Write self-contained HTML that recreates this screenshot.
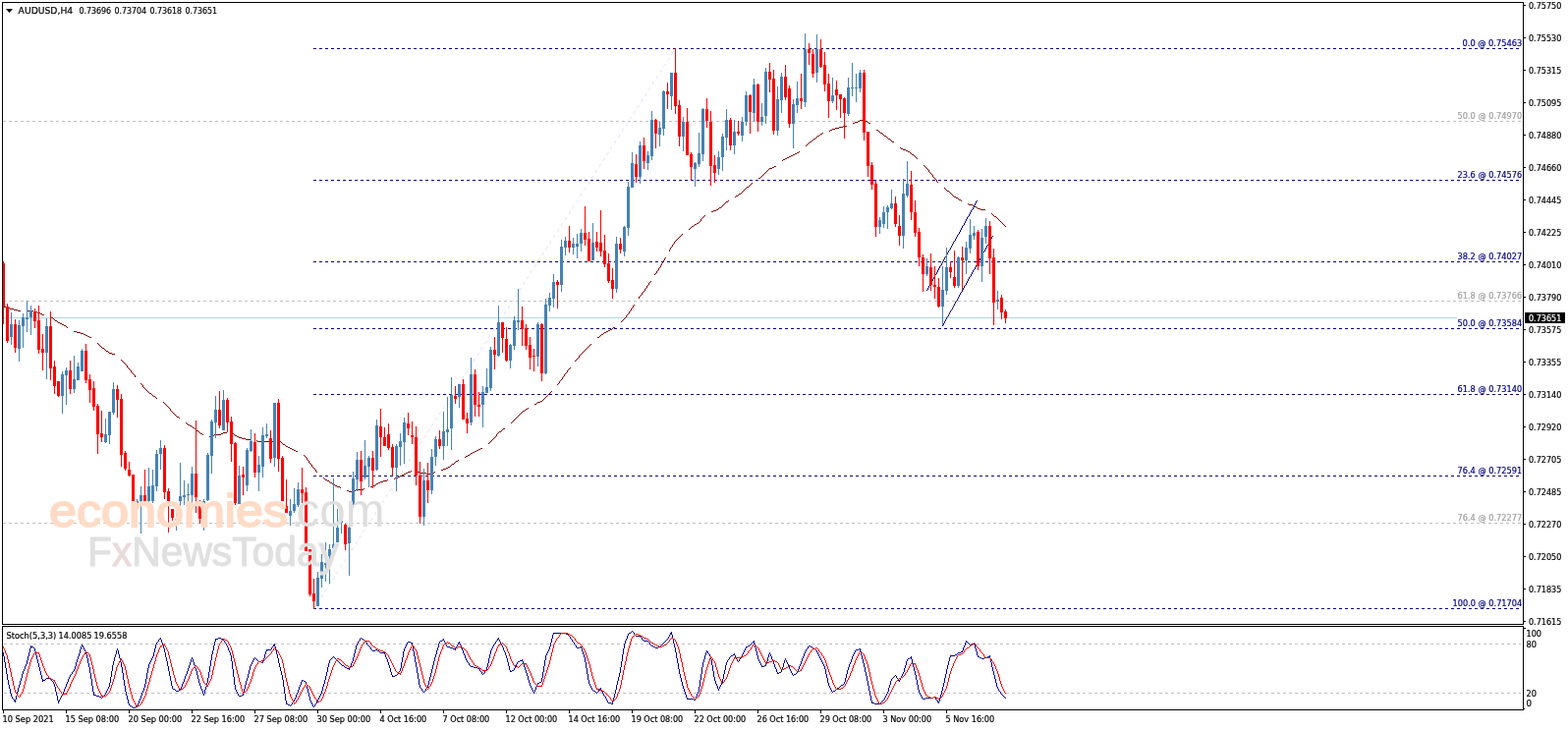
<!DOCTYPE html><html><head><meta charset="utf-8"><title>AUDUSD,H4</title><style>
html,body{margin:0;padding:0;background:#fff;}body{width:1596px;height:743px;overflow:hidden;}
svg{display:block;}text{font-family:"DejaVu Sans Condensed","Liberation Sans",sans-serif;font-size:9.5px;}
.c{shape-rendering:crispEdges}
</style></head><body>
<svg width="1596" height="743" viewBox="0 0 1596 743">
<rect x="0" y="0" width="1596" height="743" fill="#fff"/>
<g class="c">
<line x1="3" y1="123.5" x2="1548" y2="123.5" stroke="#C0C0C0" stroke-width="1" stroke-dasharray="3 3"/>
<line x1="3" y1="306.5" x2="1548" y2="306.5" stroke="#C0C0C0" stroke-width="1" stroke-dasharray="3 3"/>
<line x1="3" y1="532.5" x2="1548" y2="532.5" stroke="#C0C0C0" stroke-width="1" stroke-dasharray="3 3"/>
<line x1="319" y1="49.5" x2="1546" y2="49.5" stroke="#000080" stroke-width="1" stroke-dasharray="3 3"/>
<line x1="319" y1="183.5" x2="1546" y2="183.5" stroke="#000080" stroke-width="1" stroke-dasharray="3 3"/>
<line x1="319" y1="266.5" x2="1546" y2="266.5" stroke="#000080" stroke-width="1" stroke-dasharray="3 3"/>
<line x1="319" y1="334.5" x2="1546" y2="334.5" stroke="#000080" stroke-width="1" stroke-dasharray="3 3"/>
<line x1="319" y1="401.5" x2="1546" y2="401.5" stroke="#000080" stroke-width="1" stroke-dasharray="3 3"/>
<line x1="319" y1="484.5" x2="1546" y2="484.5" stroke="#000080" stroke-width="1" stroke-dasharray="3 3"/>
<line x1="319" y1="619.5" x2="1546" y2="619.5" stroke="#000080" stroke-width="1" stroke-dasharray="3 3"/>
<line x1="3" y1="323.5" x2="1483" y2="323.5" stroke="#ADD8E6" stroke-width="1"/>
</g>
<path d="M319 619h1v1h-1zM320 617h1v2h-1zM323 613h1v1h-1zM324 611h1v2h-1zM327 606h1v2h-1zM328 605h1v1h-1zM331 600h1v2h-1zM332 599h1v1h-1zM334 595h1v1h-1zM335 594h1v1h-1zM336 593h1v1h-1zM338 589h1v1h-1zM339 588h1v1h-1zM340 587h1v1h-1zM342 583h1v1h-1zM343 582h1v1h-1zM344 581h1v1h-1zM346 577h1v1h-1zM347 575h1v2h-1zM350 571h1v1h-1zM351 569h1v2h-1zM354 565h1v1h-1zM355 563h1v2h-1zM358 558h1v2h-1zM359 557h1v1h-1zM362 552h1v2h-1zM363 551h1v1h-1zM365 547h1v1h-1zM366 546h1v1h-1zM367 545h1v1h-1zM369 541h1v1h-1zM370 540h1v1h-1zM371 539h1v1h-1zM373 535h1v1h-1zM374 534h1v1h-1zM375 533h1v1h-1zM377 529h1v1h-1zM378 527h1v2h-1zM381 523h1v1h-1zM382 521h1v2h-1zM385 516h1v2h-1zM386 515h1v1h-1zM389 510h1v2h-1zM390 509h1v1h-1zM393 504h1v2h-1zM394 503h1v1h-1zM396 499h1v1h-1zM397 498h1v1h-1zM398 497h1v1h-1zM400 493h1v1h-1zM401 492h1v1h-1zM402 491h1v1h-1zM404 487h1v1h-1zM405 486h1v1h-1zM406 485h1v1h-1zM408 481h1v1h-1zM409 479h1v2h-1zM412 475h1v1h-1zM413 473h1v2h-1zM416 468h1v2h-1zM417 467h1v1h-1zM420 462h1v2h-1zM421 461h1v1h-1zM424 456h1v2h-1zM425 455h1v1h-1zM427 451h1v1h-1zM428 450h1v1h-1zM429 449h1v1h-1zM431 445h1v1h-1zM432 444h1v1h-1zM433 443h1v1h-1zM435 439h1v1h-1zM436 438h1v1h-1zM437 437h1v1h-1zM439 433h1v1h-1zM440 431h1v2h-1zM443 427h1v1h-1zM444 425h1v2h-1zM447 420h1v2h-1zM448 419h1v1h-1zM451 414h1v2h-1zM452 413h1v1h-1zM455 408h1v2h-1zM456 407h1v1h-1zM458 403h1v1h-1zM459 402h1v1h-1zM460 401h1v1h-1zM462 397h1v1h-1zM463 396h1v1h-1zM464 395h1v1h-1zM466 391h1v1h-1zM467 389h1v2h-1zM470 385h1v1h-1zM471 383h1v2h-1zM474 379h1v1h-1zM475 377h1v2h-1zM478 372h1v2h-1zM479 371h1v1h-1zM482 366h1v2h-1zM483 365h1v1h-1zM486 360h1v2h-1zM487 359h1v1h-1zM489 355h1v1h-1zM490 354h1v1h-1zM491 353h1v1h-1zM493 349h1v1h-1zM494 348h1v1h-1zM495 347h1v1h-1zM497 343h1v1h-1zM498 341h1v2h-1zM501 337h1v1h-1zM502 335h1v2h-1zM505 331h1v1h-1zM506 329h1v2h-1zM509 324h1v2h-1zM510 323h1v1h-1zM513 318h1v2h-1zM514 317h1v1h-1zM517 312h1v2h-1zM518 311h1v1h-1zM520 307h1v1h-1zM521 306h1v1h-1zM522 305h1v1h-1zM524 301h1v1h-1zM525 300h1v1h-1zM526 299h1v1h-1zM528 295h1v1h-1zM529 293h1v2h-1zM532 289h1v1h-1zM533 287h1v2h-1zM536 283h1v1h-1zM537 281h1v2h-1zM540 276h1v2h-1zM541 275h1v1h-1zM544 270h1v2h-1zM545 269h1v1h-1zM548 264h1v2h-1zM549 263h1v1h-1zM551 259h1v1h-1zM552 258h1v1h-1zM553 257h1v1h-1zM555 253h1v1h-1zM556 252h1v1h-1zM557 251h1v1h-1zM559 247h1v1h-1zM560 245h1v2h-1zM563 241h1v1h-1zM564 239h1v2h-1zM567 235h1v1h-1zM568 233h1v2h-1zM571 228h1v2h-1zM572 227h1v1h-1zM575 222h1v2h-1zM576 221h1v1h-1zM579 216h1v2h-1zM580 215h1v1h-1zM582 211h1v1h-1zM583 210h1v1h-1zM584 209h1v1h-1zM586 205h1v1h-1zM587 204h1v1h-1zM588 203h1v1h-1zM590 199h1v1h-1zM591 197h1v2h-1zM594 193h1v1h-1zM595 191h1v2h-1zM598 187h1v1h-1zM599 185h1v2h-1zM602 180h1v2h-1zM603 179h1v1h-1zM606 174h1v2h-1zM607 173h1v1h-1zM610 168h1v2h-1zM611 167h1v1h-1zM613 163h1v1h-1zM614 162h1v1h-1zM615 161h1v1h-1zM617 157h1v1h-1zM618 156h1v1h-1zM619 155h1v1h-1zM621 151h1v1h-1zM622 149h1v2h-1zM625 145h1v1h-1zM626 143h1v2h-1zM629 139h1v1h-1zM630 137h1v2h-1zM633 132h1v2h-1zM634 131h1v1h-1zM637 126h1v2h-1zM638 125h1v1h-1zM641 120h1v2h-1zM642 119h1v1h-1zM644 115h1v1h-1zM645 114h1v1h-1zM646 113h1v1h-1zM648 109h1v1h-1zM649 108h1v1h-1zM650 107h1v1h-1zM652 103h1v1h-1zM653 101h1v2h-1zM656 97h1v1h-1zM657 95h1v2h-1zM660 91h1v1h-1zM661 89h1v2h-1zM664 84h1v2h-1zM665 83h1v1h-1zM668 78h1v2h-1zM669 77h1v1h-1zM672 72h1v2h-1zM673 71h1v1h-1zM675 67h1v1h-1zM676 66h1v1h-1zM677 65h1v1h-1zM679 61h1v1h-1zM680 60h1v1h-1zM681 59h1v1h-1zM683 55h1v1h-1zM684 53h1v2h-1zM687 49h1v1h-1z" fill="#E2E2FF"/>
<path d="M875 122h6v1h-6zM873 123h2v1h-2zM881 123h2v1h-2zM870 124h3v1h-3zM868 125h2v1h-2zM884 125h2v1h-2zM858 128h4v1h-4zM854 129h4v1h-4zM850 130h4v1h-4zM847 131h3v1h-3zM845 132h2v1h-2zM892 132h2v1h-2zM896 135h2v1h-2zM835 136h2v1h-2zM832 138h2v1h-2zM900 138h2v1h-2zM828 141h2v1h-2zM904 141h2v1h-2zM824 144h2v1h-2zM908 144h2v1h-2zM917 151h2v1h-2zM919 152h3v1h-3zM922 153h2v1h-2zM924 154h2v1h-2zM811 155h2v1h-2zM809 156h2v1h-2zM807 157h2v1h-2zM928 157h2v1h-2zM805 158h2v1h-2zM803 159h2v1h-2zM801 160h2v1h-2zM799 161h2v1h-2zM797 162h2v1h-2zM788 169h2v1h-2zM786 170h2v1h-2zM783 171h3v1h-3zM772 181h2v1h-2zM760 190h2v1h-2zM964 194h2v1h-2zM752 197h2v1h-2zM749 199h2v1h-2zM971 200h2v1h-2zM973 201h2v1h-2zM976 203h2v1h-2zM739 205h2v1h-2zM986 208h4v1h-4zM990 209h2v1h-2zM992 210h2v1h-2zM732 211h2v1h-2zM995 212h3v1h-3zM729 213h2v1h-2zM998 213h5v1h-5zM726 214h3v1h-3zM724 215h2v1h-2zM1012 220h2v1h-2zM709 227h2v1h-2zM707 228h2v1h-2zM704 230h2v1h-2zM3 312h3v1h-3zM6 313h4v1h-4zM10 314h4v1h-4zM14 315h4v1h-4zM18 316h3v1h-3zM27 316h7v1h-7zM34 317h4v1h-4zM38 318h3v1h-3zM41 319h2v1h-2zM43 320h2v1h-2zM52 323h2v1h-2zM56 326h2v1h-2zM59 328h2v1h-2zM61 329h2v1h-2zM63 330h2v1h-2zM65 331h2v1h-2zM624 333h2v1h-2zM621 335h2v1h-2zM619 336h2v1h-2zM75 337h3v1h-3zM617 337h2v1h-2zM78 338h4v1h-4zM615 338h2v1h-2zM82 339h3v1h-3zM85 340h2v1h-2zM612 340h2v1h-2zM87 341h2v1h-2zM89 342h2v1h-2zM91 343h2v1h-2zM608 343h2v1h-2zM104 354h2v1h-2zM108 357h2v1h-2zM111 359h3v1h-3zM114 360h3v1h-3zM152 400h2v1h-2zM156 403h2v1h-2zM550 408h2v1h-2zM547 409h3v1h-3zM544 411h2v1h-2zM535 416h2v1h-2zM532 418h2v1h-2zM180 424h2v1h-2zM191 432h2v1h-2zM193 433h2v1h-2zM196 435h2v1h-2zM512 436h2v1h-2zM200 438h2v1h-2zM508 439h2v1h-2zM227 440h4v1h-4zM204 441h2v1h-2zM225 441h2v1h-2zM218 442h7v1h-7zM214 443h4v1h-4zM239 443h2v1h-2zM241 444h2v1h-2zM243 445h3v1h-3zM246 446h4v1h-4zM250 447h5v1h-5zM262 449h16v1h-16zM288 452h2v1h-2zM291 454h2v1h-2zM293 455h2v1h-2zM295 456h2v1h-2zM489 456h2v1h-2zM297 457h2v1h-2zM487 457h2v1h-2zM299 458h2v1h-2zM485 458h2v1h-2zM301 459h2v1h-2zM483 459h2v1h-2zM481 460h2v1h-2zM479 461h2v1h-2zM476 463h2v1h-2zM474 464h2v1h-2zM464 469h2v1h-2zM460 472h2v1h-2zM456 475h2v1h-2zM454 476h2v1h-2zM451 477h3v1h-3zM449 478h2v1h-2zM415 480h3v1h-3zM425 480h2v1h-2zM413 481h2v1h-2zM427 481h7v1h-7zM438 481h4v1h-4zM411 482h2v1h-2zM434 482h4v1h-4zM409 483h2v1h-2zM407 484h2v1h-2zM405 485h2v1h-2zM402 486h3v1h-3zM331 488h2v1h-2zM333 489h2v1h-2zM390 489h4v1h-4zM387 490h3v1h-3zM336 491h2v1h-2zM385 491h2v1h-2zM383 492h2v1h-2zM339 493h2v1h-2zM341 494h2v1h-2zM380 494h2v1h-2zM343 495h3v1h-3zM377 495h3v1h-3zM362 498h8v1h-8zM353 499h2v1h-2zM358 499h4v1h-4zM355 500h3v1h-3zM51 322h1v1h-1zM54 324h1v1h-1zM55 325h1v1h-1zM58 327h1v1h-1zM67 332h1v1h-1zM68 333h1v1h-1zM99 349h1v1h-1zM100 350h1v1h-1zM101 351h1v1h-1zM102 352h1v1h-1zM103 353h1v1h-1zM106 355h1v1h-1zM107 356h1v1h-1zM110 358h1v1h-1zM123 366h1v1h-1zM124 367h1v1h-1zM125 368h1v1h-1zM126 369h1v1h-1zM127 370h1v1h-1zM128 371h1v1h-1zM129 372h1v2h-1zM130 374h1v1h-1zM131 375h1v1h-1zM132 376h1v1h-1zM133 377h1v2h-1zM134 379h1v1h-1zM135 380h1v1h-1zM136 381h1v1h-1zM137 382h1v2h-1zM143 390h1v1h-1zM144 391h1v1h-1zM145 392h1v2h-1zM146 394h1v1h-1zM147 395h1v1h-1zM148 396h1v1h-1zM149 397h1v1h-1zM150 398h1v1h-1zM151 399h1v1h-1zM154 401h1v1h-1zM155 402h1v1h-1zM158 404h1v1h-1zM159 405h1v1h-1zM166 409h1v1h-1zM167 410h1v1h-1zM168 411h1v1h-1zM169 412h1v1h-1zM170 413h1v1h-1zM171 414h1v1h-1zM172 415h1v1h-1zM173 416h1v2h-1zM174 418h1v1h-1zM175 419h1v1h-1zM176 420h1v1h-1zM177 421h1v1h-1zM178 422h1v1h-1zM179 423h1v1h-1zM182 425h1v1h-1zM189 430h1v1h-1zM190 431h1v1h-1zM195 434h1v1h-1zM198 436h1v1h-1zM199 437h1v1h-1zM202 439h1v1h-1zM203 440h1v1h-1zM206 442h1v1h-1zM213 444h1v1h-1zM237 441h1v1h-1zM238 442h1v1h-1zM261 448h1v1h-1zM278 448h1v1h-1zM285 449h1v1h-1zM286 450h1v1h-1zM287 451h1v1h-1zM290 453h1v1h-1zM309 463h1v1h-1zM310 464h1v1h-1zM311 465h1v1h-1zM312 466h1v2h-1zM313 468h1v1h-1zM314 469h1v2h-1zM315 471h1v1h-1zM316 472h1v1h-1zM317 473h1v2h-1zM318 475h1v1h-1zM319 476h1v1h-1zM320 477h1v1h-1zM321 478h1v2h-1zM322 480h1v1h-1zM329 486h1v1h-1zM330 487h1v1h-1zM335 490h1v1h-1zM338 492h1v1h-1zM346 496h1v1h-1zM370 497h1v1h-1zM382 493h1v1h-1zM394 488h1v1h-1zM401 487h1v1h-1zM418 479h1v1h-1zM442 480h1v1h-1zM458 474h1v1h-1zM459 473h1v1h-1zM462 471h1v1h-1zM463 470h1v1h-1zM466 468h1v1h-1zM473 465h1v1h-1zM478 462h1v1h-1zM497 451h1v1h-1zM498 450h1v1h-1zM499 449h1v1h-1zM500 448h1v1h-1zM501 447h1v1h-1zM502 446h1v1h-1zM503 445h1v1h-1zM504 444h1v1h-1zM505 442h1v2h-1zM506 441h1v1h-1zM507 440h1v1h-1zM510 438h1v1h-1zM511 437h1v1h-1zM520 430h1v1h-1zM521 429h1v1h-1zM522 428h1v1h-1zM523 427h1v1h-1zM524 426h1v1h-1zM525 425h1v1h-1zM526 424h1v1h-1zM527 423h1v1h-1zM528 422h1v1h-1zM529 421h1v1h-1zM530 420h1v1h-1zM531 419h1v1h-1zM534 417h1v1h-1zM537 415h1v1h-1zM546 410h1v1h-1zM552 407h1v1h-1zM553 406h1v1h-1zM554 405h1v1h-1zM555 404h1v1h-1zM556 403h1v1h-1zM557 402h1v1h-1zM558 401h1v1h-1zM559 400h1v1h-1zM560 399h1v1h-1zM561 398h1v1h-1zM567 391h1v1h-1zM568 390h1v1h-1zM569 388h1v2h-1zM570 387h1v1h-1zM571 386h1v1h-1zM572 384h1v2h-1zM573 383h1v1h-1zM574 381h1v2h-1zM575 380h1v1h-1zM576 379h1v1h-1zM577 377h1v2h-1zM578 376h1v1h-1zM579 375h1v1h-1zM580 374h1v1h-1zM585 367h1v1h-1zM586 366h1v1h-1zM587 365h1v1h-1zM588 364h1v1h-1zM589 362h1v2h-1zM590 361h1v1h-1zM591 360h1v1h-1zM592 359h1v1h-1zM593 358h1v1h-1zM594 357h1v1h-1zM595 356h1v1h-1zM596 355h1v1h-1zM597 354h1v1h-1zM598 353h1v1h-1zM599 352h1v1h-1zM600 351h1v1h-1zM601 350h1v1h-1zM610 342h1v1h-1zM611 341h1v1h-1zM614 339h1v1h-1zM623 334h1v1h-1zM632 327h1v1h-1zM633 326h1v1h-1zM634 325h1v1h-1zM635 324h1v1h-1zM636 323h1v1h-1zM637 321h1v2h-1zM638 320h1v1h-1zM639 319h1v1h-1zM640 317h1v2h-1zM641 316h1v1h-1zM642 314h1v2h-1zM643 313h1v1h-1zM644 311h1v2h-1zM645 310h1v1h-1zM650 302h1v2h-1zM651 301h1v1h-1zM652 300h1v1h-1zM653 298h1v2h-1zM654 297h1v1h-1zM655 296h1v1h-1zM656 294h1v2h-1zM657 293h1v1h-1zM658 291h1v2h-1zM659 290h1v1h-1zM660 288h1v2h-1zM661 287h1v1h-1zM662 286h1v1h-1zM666 279h1v1h-1zM667 278h1v1h-1zM668 276h1v2h-1zM669 275h1v1h-1zM670 273h1v2h-1zM671 272h1v1h-1zM672 270h1v2h-1zM673 268h1v2h-1zM674 266h1v2h-1zM675 265h1v1h-1zM676 263h1v2h-1zM677 262h1v1h-1zM681 254h1v2h-1zM682 252h1v2h-1zM683 251h1v1h-1zM684 249h1v2h-1zM685 248h1v1h-1zM686 246h1v2h-1zM687 245h1v1h-1zM688 244h1v1h-1zM689 243h1v1h-1zM690 242h1v1h-1zM691 241h1v1h-1zM692 240h1v1h-1zM693 239h1v1h-1zM694 238h1v1h-1zM701 233h1v1h-1zM702 232h1v1h-1zM703 231h1v1h-1zM706 229h1v1h-1zM711 226h1v1h-1zM712 225h1v1h-1zM713 223h1v2h-1zM714 222h1v1h-1zM715 221h1v1h-1zM716 220h1v1h-1zM717 219h1v1h-1zM731 212h1v1h-1zM734 210h1v1h-1zM735 209h1v1h-1zM736 208h1v1h-1zM737 207h1v1h-1zM738 206h1v1h-1zM741 204h1v1h-1zM748 200h1v1h-1zM751 198h1v1h-1zM754 196h1v1h-1zM755 195h1v1h-1zM756 194h1v1h-1zM757 193h1v1h-1zM758 192h1v1h-1zM759 191h1v1h-1zM762 189h1v1h-1zM763 188h1v1h-1zM764 187h1v1h-1zM765 186h1v1h-1zM774 180h1v1h-1zM775 179h1v1h-1zM776 178h1v1h-1zM777 177h1v1h-1zM778 176h1v1h-1zM779 175h1v1h-1zM780 174h1v1h-1zM781 173h1v1h-1zM782 172h1v1h-1zM796 163h1v1h-1zM813 154h1v1h-1zM820 148h1v1h-1zM821 147h1v1h-1zM822 146h1v1h-1zM823 145h1v1h-1zM826 143h1v1h-1zM827 142h1v1h-1zM830 140h1v1h-1zM831 139h1v1h-1zM834 137h1v1h-1zM837 135h1v1h-1zM844 133h1v1h-1zM883 124h1v1h-1zM894 133h1v1h-1zM895 134h1v1h-1zM898 136h1v1h-1zM899 137h1v1h-1zM902 139h1v1h-1zM903 140h1v1h-1zM906 142h1v1h-1zM907 143h1v1h-1zM916 150h1v1h-1zM926 155h1v1h-1zM927 156h1v1h-1zM930 158h1v1h-1zM931 159h1v1h-1zM932 160h1v1h-1zM933 161h1v1h-1zM940 168h1v1h-1zM941 169h1v1h-1zM942 170h1v1h-1zM943 171h1v1h-1zM944 172h1v1h-1zM945 173h1v2h-1zM946 175h1v1h-1zM947 176h1v1h-1zM948 177h1v1h-1zM949 178h1v2h-1zM950 180h1v1h-1zM951 181h1v1h-1zM952 182h1v1h-1zM953 183h1v2h-1zM954 185h1v1h-1zM961 191h1v1h-1zM962 192h1v1h-1zM963 193h1v1h-1zM966 195h1v1h-1zM967 196h1v1h-1zM968 197h1v1h-1zM969 198h1v1h-1zM970 199h1v1h-1zM975 202h1v1h-1zM978 204h1v1h-1zM985 207h1v1h-1zM994 211h1v1h-1zM1009 217h1v1h-1zM1010 218h1v1h-1zM1011 219h1v1h-1zM1014 221h1v1h-1zM1015 222h1v1h-1zM1016 223h1v1h-1zM1017 224h1v1h-1zM1018 225h1v1h-1zM1019 226h1v1h-1zM1020 227h1v1h-1zM1021 228h1v1h-1zM1022 229h1v1h-1zM1023 230h1v1h-1z" fill="#800000"/>
<path d="M943 295h1v1h-1zM944 293h1v2h-1zM945 291h1v2h-1zM946 289h1v2h-1zM947 287h1v2h-1zM948 286h1v1h-1zM949 284h1v2h-1zM950 282h1v2h-1zM951 280h1v2h-1zM952 279h1v1h-1zM953 277h1v2h-1zM954 275h1v2h-1zM955 273h1v2h-1zM956 271h1v2h-1zM957 270h1v1h-1zM958 268h1v2h-1zM959 266h1v2h-1zM960 264h1v2h-1zM961 262h1v2h-1zM962 261h1v1h-1zM963 259h1v2h-1zM964 257h1v2h-1zM965 255h1v2h-1zM966 254h1v1h-1zM967 252h1v2h-1zM968 250h1v2h-1zM969 248h1v2h-1zM970 246h1v2h-1zM971 245h1v1h-1zM972 243h1v2h-1zM973 241h1v2h-1zM974 239h1v2h-1zM975 238h1v1h-1zM976 236h1v2h-1zM977 234h1v2h-1zM978 232h1v2h-1zM979 230h1v2h-1zM980 229h1v1h-1zM981 227h1v2h-1zM982 225h1v2h-1zM983 223h1v2h-1zM984 221h1v2h-1zM985 220h1v1h-1zM986 218h1v2h-1zM987 216h1v2h-1zM988 214h1v2h-1zM989 213h1v1h-1zM990 211h1v2h-1zM991 209h1v2h-1zM992 207h1v2h-1zM993 205h1v2h-1zM994 204h1v1h-1z" fill="#000080"/>
<path d="M959 331h1v1h-1zM960 329h1v2h-1zM961 327h1v2h-1zM962 325h1v2h-1zM963 323h1v2h-1zM964 322h1v1h-1zM965 320h1v2h-1zM966 318h1v2h-1zM967 316h1v2h-1zM968 315h1v1h-1zM969 313h1v2h-1zM970 311h1v2h-1zM971 309h1v2h-1zM972 307h1v2h-1zM973 306h1v1h-1zM974 304h1v2h-1zM975 302h1v2h-1zM976 300h1v2h-1zM977 298h1v2h-1zM978 297h1v1h-1zM979 295h1v2h-1zM980 293h1v2h-1zM981 291h1v2h-1zM982 290h1v1h-1zM983 288h1v2h-1zM984 286h1v2h-1zM985 284h1v2h-1zM986 282h1v2h-1zM987 281h1v1h-1zM988 279h1v2h-1zM989 277h1v2h-1zM990 275h1v2h-1zM991 274h1v1h-1zM992 272h1v2h-1zM993 270h1v2h-1zM994 268h1v2h-1zM995 266h1v2h-1zM996 265h1v1h-1zM997 263h1v2h-1zM998 261h1v2h-1zM999 259h1v2h-1zM1000 257h1v2h-1zM1001 256h1v1h-1zM1002 254h1v2h-1zM1003 252h1v2h-1zM1004 250h1v2h-1zM1005 249h1v1h-1zM1006 247h1v2h-1zM1007 245h1v2h-1zM1008 243h1v2h-1zM1009 241h1v2h-1zM1010 240h1v1h-1z" fill="#000080"/>
<g class="c">
<rect x="3" y="266" width="1" height="64" fill="#FF0000"/>
<rect x="2" y="268" width="3" height="44" fill="#FF0000"/>
<rect x="7" y="309" width="1" height="40" fill="#FF0000"/>
<rect x="6" y="312" width="3" height="35" fill="#FF0000"/>
<rect x="11" y="318" width="1" height="33" fill="#4682B4"/>
<rect x="10" y="330" width="3" height="13" fill="#4682B4"/>
<rect x="15" y="325" width="1" height="34" fill="#FF0000"/>
<rect x="14" y="330" width="3" height="24" fill="#FF0000"/>
<rect x="19" y="326" width="1" height="42" fill="#4682B4"/>
<rect x="18" y="331" width="3" height="24" fill="#4682B4"/>
<rect x="23" y="319" width="1" height="35" fill="#4682B4"/>
<rect x="22" y="323" width="3" height="9" fill="#4682B4"/>
<rect x="27" y="306" width="1" height="32" fill="#4682B4"/>
<rect x="26" y="323" width="3" height="2" fill="#4682B4"/>
<rect x="31" y="311" width="1" height="30" fill="#4682B4"/>
<rect x="30" y="316" width="3" height="7" fill="#4682B4"/>
<rect x="35" y="314" width="1" height="20" fill="#FF0000"/>
<rect x="34" y="317" width="3" height="10" fill="#FF0000"/>
<rect x="39" y="311" width="1" height="49" fill="#FF0000"/>
<rect x="38" y="326" width="3" height="30" fill="#FF0000"/>
<rect x="43" y="340" width="1" height="37" fill="#FF0000"/>
<rect x="42" y="355" width="3" height="4" fill="#FF0000"/>
<rect x="47" y="324" width="1" height="62" fill="#4682B4"/>
<rect x="46" y="332" width="3" height="27" fill="#4682B4"/>
<rect x="51" y="317" width="1" height="70" fill="#FF0000"/>
<rect x="50" y="332" width="3" height="43" fill="#FF0000"/>
<rect x="55" y="367" width="1" height="34" fill="#FF0000"/>
<rect x="54" y="373" width="3" height="20" fill="#FF0000"/>
<rect x="59" y="388" width="1" height="16" fill="#FF0000"/>
<rect x="58" y="388" width="3" height="15" fill="#FF0000"/>
<rect x="63" y="378" width="1" height="43" fill="#4682B4"/>
<rect x="62" y="381" width="3" height="22" fill="#4682B4"/>
<rect x="67" y="374" width="1" height="38" fill="#4682B4"/>
<rect x="66" y="377" width="3" height="5" fill="#4682B4"/>
<rect x="71" y="367" width="1" height="34" fill="#FF0000"/>
<rect x="70" y="377" width="3" height="19" fill="#FF0000"/>
<rect x="75" y="362" width="1" height="38" fill="#4682B4"/>
<rect x="74" y="386" width="3" height="10" fill="#4682B4"/>
<rect x="79" y="369" width="1" height="18" fill="#4682B4"/>
<rect x="78" y="373" width="3" height="14" fill="#4682B4"/>
<rect x="83" y="355" width="1" height="23" fill="#4682B4"/>
<rect x="82" y="357" width="3" height="21" fill="#4682B4"/>
<rect x="87" y="350" width="1" height="40" fill="#FF0000"/>
<rect x="86" y="357" width="3" height="30" fill="#FF0000"/>
<rect x="91" y="381" width="1" height="29" fill="#FF0000"/>
<rect x="90" y="386" width="3" height="11" fill="#FF0000"/>
<rect x="95" y="388" width="1" height="30" fill="#FF0000"/>
<rect x="94" y="395" width="3" height="19" fill="#FF0000"/>
<rect x="99" y="411" width="1" height="51" fill="#FF0000"/>
<rect x="98" y="413" width="3" height="29" fill="#FF0000"/>
<rect x="103" y="418" width="1" height="32" fill="#FF0000"/>
<rect x="102" y="441" width="3" height="4" fill="#FF0000"/>
<rect x="107" y="426" width="1" height="25" fill="#4682B4"/>
<rect x="106" y="442" width="3" height="8" fill="#4682B4"/>
<rect x="111" y="419" width="1" height="33" fill="#4682B4"/>
<rect x="110" y="419" width="3" height="24" fill="#4682B4"/>
<rect x="115" y="389" width="1" height="33" fill="#4682B4"/>
<rect x="114" y="396" width="3" height="24" fill="#4682B4"/>
<rect x="119" y="392" width="1" height="33" fill="#FF0000"/>
<rect x="118" y="396" width="3" height="11" fill="#FF0000"/>
<rect x="123" y="401" width="1" height="74" fill="#FF0000"/>
<rect x="122" y="406" width="3" height="57" fill="#FF0000"/>
<rect x="127" y="459" width="1" height="20" fill="#FF0000"/>
<rect x="126" y="461" width="3" height="16" fill="#FF0000"/>
<rect x="131" y="470" width="1" height="15" fill="#FF0000"/>
<rect x="130" y="478" width="3" height="6" fill="#FF0000"/>
<rect x="135" y="483" width="1" height="33" fill="#FF0000"/>
<rect x="134" y="483" width="3" height="31" fill="#FF0000"/>
<rect x="139" y="508" width="1" height="4" fill="#4682B4"/>
<rect x="138" y="510" width="3" height="2" fill="#4682B4"/>
<rect x="143" y="495" width="1" height="48" fill="#4682B4"/>
<rect x="142" y="504" width="3" height="6" fill="#4682B4"/>
<rect x="147" y="478" width="1" height="32" fill="#FF0000"/>
<rect x="146" y="504" width="3" height="6" fill="#FF0000"/>
<rect x="151" y="476" width="1" height="46" fill="#4682B4"/>
<rect x="150" y="495" width="3" height="15" fill="#4682B4"/>
<rect x="155" y="478" width="1" height="34" fill="#4682B4"/>
<rect x="154" y="494" width="3" height="16" fill="#4682B4"/>
<rect x="159" y="458" width="1" height="42" fill="#4682B4"/>
<rect x="158" y="462" width="3" height="33" fill="#4682B4"/>
<rect x="163" y="448" width="1" height="30" fill="#4682B4"/>
<rect x="162" y="456" width="3" height="6" fill="#4682B4"/>
<rect x="167" y="453" width="1" height="55" fill="#FF0000"/>
<rect x="166" y="456" width="3" height="45" fill="#FF0000"/>
<rect x="171" y="497" width="1" height="45" fill="#FF0000"/>
<rect x="170" y="500" width="3" height="10" fill="#FF0000"/>
<rect x="175" y="518" width="1" height="12" fill="#FF0000"/>
<rect x="174" y="518" width="3" height="9" fill="#FF0000"/>
<rect x="179" y="519" width="1" height="21" fill="#4682B4"/>
<rect x="178" y="528" width="3" height="2" fill="#4682B4"/>
<rect x="183" y="471" width="1" height="57" fill="#4682B4"/>
<rect x="182" y="505" width="3" height="5" fill="#4682B4"/>
<rect x="187" y="489" width="1" height="25" fill="#4682B4"/>
<rect x="186" y="504" width="3" height="2" fill="#4682B4"/>
<rect x="191" y="492" width="1" height="20" fill="#4682B4"/>
<rect x="190" y="503" width="3" height="1" fill="#4682B4"/>
<rect x="195" y="475" width="1" height="37" fill="#4682B4"/>
<rect x="194" y="482" width="3" height="22" fill="#4682B4"/>
<rect x="199" y="428" width="1" height="94" fill="#FF0000"/>
<rect x="198" y="482" width="3" height="24" fill="#FF0000"/>
<rect x="203" y="509" width="1" height="24" fill="#FF0000"/>
<rect x="202" y="515" width="3" height="13" fill="#FF0000"/>
<rect x="207" y="508" width="1" height="32" fill="#4682B4"/>
<rect x="206" y="510" width="3" height="4" fill="#4682B4"/>
<rect x="211" y="461" width="1" height="49" fill="#4682B4"/>
<rect x="210" y="463" width="3" height="46" fill="#4682B4"/>
<rect x="215" y="427" width="1" height="55" fill="#4682B4"/>
<rect x="214" y="429" width="3" height="35" fill="#4682B4"/>
<rect x="219" y="403" width="1" height="43" fill="#4682B4"/>
<rect x="218" y="417" width="3" height="13" fill="#4682B4"/>
<rect x="223" y="398" width="1" height="38" fill="#FF0000"/>
<rect x="222" y="417" width="3" height="16" fill="#FF0000"/>
<rect x="227" y="397" width="1" height="41" fill="#4682B4"/>
<rect x="226" y="407" width="3" height="31" fill="#4682B4"/>
<rect x="231" y="405" width="1" height="35" fill="#FF0000"/>
<rect x="230" y="407" width="3" height="23" fill="#FF0000"/>
<rect x="235" y="424" width="1" height="46" fill="#FF0000"/>
<rect x="234" y="429" width="3" height="23" fill="#FF0000"/>
<rect x="239" y="450" width="1" height="64" fill="#FF0000"/>
<rect x="238" y="451" width="3" height="61" fill="#FF0000"/>
<rect x="243" y="474" width="1" height="39" fill="#4682B4"/>
<rect x="242" y="484" width="3" height="29" fill="#4682B4"/>
<rect x="247" y="475" width="1" height="29" fill="#FF0000"/>
<rect x="246" y="483" width="3" height="3" fill="#FF0000"/>
<rect x="251" y="456" width="1" height="44" fill="#4682B4"/>
<rect x="250" y="458" width="3" height="36" fill="#4682B4"/>
<rect x="255" y="437" width="1" height="23" fill="#4682B4"/>
<rect x="254" y="449" width="3" height="10" fill="#4682B4"/>
<rect x="259" y="441" width="1" height="45" fill="#FF0000"/>
<rect x="258" y="450" width="3" height="31" fill="#FF0000"/>
<rect x="263" y="464" width="1" height="36" fill="#4682B4"/>
<rect x="262" y="473" width="3" height="8" fill="#4682B4"/>
<rect x="267" y="435" width="1" height="51" fill="#4682B4"/>
<rect x="266" y="443" width="3" height="32" fill="#4682B4"/>
<rect x="271" y="431" width="1" height="15" fill="#4682B4"/>
<rect x="270" y="442" width="3" height="2" fill="#4682B4"/>
<rect x="275" y="438" width="1" height="33" fill="#FF0000"/>
<rect x="274" y="446" width="3" height="21" fill="#FF0000"/>
<rect x="279" y="410" width="1" height="65" fill="#4682B4"/>
<rect x="278" y="410" width="3" height="56" fill="#4682B4"/>
<rect x="283" y="406" width="1" height="74" fill="#FF0000"/>
<rect x="282" y="410" width="3" height="57" fill="#FF0000"/>
<rect x="287" y="464" width="1" height="46" fill="#FF0000"/>
<rect x="286" y="466" width="3" height="44" fill="#FF0000"/>
<rect x="291" y="488" width="1" height="34" fill="#FF0000"/>
<rect x="290" y="515" width="3" height="7" fill="#FF0000"/>
<rect x="295" y="508" width="1" height="27" fill="#4682B4"/>
<rect x="294" y="520" width="3" height="5" fill="#4682B4"/>
<rect x="299" y="497" width="1" height="25" fill="#4682B4"/>
<rect x="298" y="513" width="3" height="7" fill="#4682B4"/>
<rect x="303" y="491" width="1" height="25" fill="#4682B4"/>
<rect x="302" y="498" width="3" height="16" fill="#4682B4"/>
<rect x="307" y="476" width="1" height="36" fill="#FF0000"/>
<rect x="306" y="498" width="3" height="4" fill="#FF0000"/>
<rect x="311" y="496" width="1" height="65" fill="#FF0000"/>
<rect x="310" y="501" width="3" height="60" fill="#FF0000"/>
<rect x="315" y="559" width="1" height="48" fill="#FF0000"/>
<rect x="314" y="559" width="3" height="46" fill="#FF0000"/>
<rect x="319" y="589" width="1" height="31" fill="#FF0000"/>
<rect x="318" y="604" width="3" height="8" fill="#FF0000"/>
<rect x="323" y="582" width="1" height="35" fill="#4682B4"/>
<rect x="322" y="588" width="3" height="29" fill="#4682B4"/>
<rect x="327" y="564" width="1" height="34" fill="#4682B4"/>
<rect x="326" y="572" width="3" height="17" fill="#4682B4"/>
<rect x="331" y="552" width="1" height="40" fill="#4682B4"/>
<rect x="330" y="573" width="3" height="2" fill="#4682B4"/>
<rect x="335" y="554" width="1" height="40" fill="#4682B4"/>
<rect x="334" y="559" width="3" height="7" fill="#4682B4"/>
<rect x="339" y="487" width="1" height="71" fill="#4682B4"/>
<rect x="338" y="554" width="3" height="4" fill="#4682B4"/>
<rect x="343" y="518" width="1" height="34" fill="#4682B4"/>
<rect x="342" y="537" width="3" height="15" fill="#4682B4"/>
<rect x="347" y="518" width="1" height="25" fill="#4682B4"/>
<rect x="346" y="530" width="3" height="2" fill="#4682B4"/>
<rect x="351" y="533" width="1" height="27" fill="#FF0000"/>
<rect x="350" y="534" width="3" height="20" fill="#FF0000"/>
<rect x="355" y="530" width="1" height="56" fill="#4682B4"/>
<rect x="354" y="537" width="3" height="16" fill="#4682B4"/>
<rect x="359" y="480" width="1" height="34" fill="#4682B4"/>
<rect x="358" y="487" width="3" height="26" fill="#4682B4"/>
<rect x="363" y="460" width="1" height="40" fill="#4682B4"/>
<rect x="362" y="468" width="3" height="20" fill="#4682B4"/>
<rect x="367" y="459" width="1" height="45" fill="#FF0000"/>
<rect x="366" y="468" width="3" height="22" fill="#FF0000"/>
<rect x="371" y="448" width="1" height="40" fill="#4682B4"/>
<rect x="370" y="474" width="3" height="12" fill="#4682B4"/>
<rect x="375" y="464" width="1" height="32" fill="#4682B4"/>
<rect x="374" y="466" width="3" height="9" fill="#4682B4"/>
<rect x="379" y="459" width="1" height="38" fill="#FF0000"/>
<rect x="378" y="466" width="3" height="13" fill="#FF0000"/>
<rect x="383" y="427" width="1" height="52" fill="#4682B4"/>
<rect x="382" y="433" width="3" height="45" fill="#4682B4"/>
<rect x="387" y="416" width="1" height="49" fill="#FF0000"/>
<rect x="386" y="434" width="3" height="11" fill="#FF0000"/>
<rect x="391" y="435" width="1" height="19" fill="#FF0000"/>
<rect x="390" y="445" width="3" height="9" fill="#FF0000"/>
<rect x="395" y="431" width="1" height="27" fill="#FF0000"/>
<rect x="394" y="442" width="3" height="14" fill="#FF0000"/>
<rect x="399" y="452" width="1" height="32" fill="#FF0000"/>
<rect x="398" y="455" width="3" height="21" fill="#FF0000"/>
<rect x="403" y="452" width="1" height="48" fill="#4682B4"/>
<rect x="402" y="454" width="3" height="22" fill="#4682B4"/>
<rect x="407" y="441" width="1" height="33" fill="#4682B4"/>
<rect x="406" y="449" width="3" height="6" fill="#4682B4"/>
<rect x="411" y="425" width="1" height="47" fill="#4682B4"/>
<rect x="410" y="430" width="3" height="20" fill="#4682B4"/>
<rect x="415" y="420" width="1" height="23" fill="#FF0000"/>
<rect x="414" y="431" width="3" height="5" fill="#FF0000"/>
<rect x="419" y="429" width="1" height="23" fill="#FF0000"/>
<rect x="418" y="443" width="3" height="2" fill="#FF0000"/>
<rect x="423" y="434" width="1" height="60" fill="#FF0000"/>
<rect x="422" y="445" width="3" height="39" fill="#FF0000"/>
<rect x="427" y="470" width="1" height="63" fill="#FF0000"/>
<rect x="426" y="484" width="3" height="42" fill="#FF0000"/>
<rect x="431" y="477" width="1" height="58" fill="#4682B4"/>
<rect x="430" y="489" width="3" height="37" fill="#4682B4"/>
<rect x="435" y="471" width="1" height="41" fill="#FF0000"/>
<rect x="434" y="489" width="3" height="10" fill="#FF0000"/>
<rect x="439" y="457" width="1" height="46" fill="#4682B4"/>
<rect x="438" y="465" width="3" height="34" fill="#4682B4"/>
<rect x="443" y="444" width="1" height="30" fill="#4682B4"/>
<rect x="442" y="447" width="3" height="18" fill="#4682B4"/>
<rect x="447" y="438" width="1" height="19" fill="#FF0000"/>
<rect x="446" y="447" width="3" height="7" fill="#FF0000"/>
<rect x="451" y="419" width="1" height="49" fill="#4682B4"/>
<rect x="450" y="439" width="3" height="15" fill="#4682B4"/>
<rect x="455" y="404" width="1" height="50" fill="#4682B4"/>
<rect x="454" y="437" width="3" height="3" fill="#4682B4"/>
<rect x="459" y="384" width="1" height="74" fill="#4682B4"/>
<rect x="458" y="402" width="3" height="34" fill="#4682B4"/>
<rect x="463" y="393" width="1" height="18" fill="#FF0000"/>
<rect x="462" y="403" width="3" height="3" fill="#FF0000"/>
<rect x="467" y="391" width="1" height="24" fill="#4682B4"/>
<rect x="466" y="391" width="3" height="13" fill="#4682B4"/>
<rect x="471" y="386" width="1" height="41" fill="#FF0000"/>
<rect x="470" y="391" width="3" height="36" fill="#FF0000"/>
<rect x="475" y="420" width="1" height="21" fill="#FF0000"/>
<rect x="474" y="426" width="3" height="5" fill="#FF0000"/>
<rect x="479" y="364" width="1" height="69" fill="#4682B4"/>
<rect x="478" y="381" width="3" height="49" fill="#4682B4"/>
<rect x="483" y="376" width="1" height="48" fill="#FF0000"/>
<rect x="482" y="381" width="3" height="31" fill="#FF0000"/>
<rect x="487" y="399" width="1" height="25" fill="#FF0000"/>
<rect x="486" y="412" width="3" height="2" fill="#FF0000"/>
<rect x="491" y="393" width="1" height="42" fill="#4682B4"/>
<rect x="490" y="399" width="3" height="13" fill="#4682B4"/>
<rect x="495" y="375" width="1" height="25" fill="#4682B4"/>
<rect x="494" y="394" width="3" height="6" fill="#4682B4"/>
<rect x="499" y="353" width="1" height="45" fill="#4682B4"/>
<rect x="498" y="356" width="3" height="39" fill="#4682B4"/>
<rect x="503" y="343" width="1" height="33" fill="#FF0000"/>
<rect x="502" y="356" width="3" height="5" fill="#FF0000"/>
<rect x="507" y="311" width="1" height="52" fill="#4682B4"/>
<rect x="506" y="328" width="3" height="34" fill="#4682B4"/>
<rect x="511" y="328" width="1" height="31" fill="#FF0000"/>
<rect x="510" y="328" width="3" height="16" fill="#FF0000"/>
<rect x="515" y="333" width="1" height="35" fill="#FF0000"/>
<rect x="514" y="345" width="3" height="22" fill="#FF0000"/>
<rect x="519" y="350" width="1" height="25" fill="#4682B4"/>
<rect x="518" y="351" width="3" height="16" fill="#4682B4"/>
<rect x="523" y="322" width="1" height="34" fill="#4682B4"/>
<rect x="522" y="326" width="3" height="26" fill="#4682B4"/>
<rect x="527" y="294" width="1" height="42" fill="#4682B4"/>
<rect x="526" y="326" width="3" height="2" fill="#4682B4"/>
<rect x="531" y="312" width="1" height="40" fill="#FF0000"/>
<rect x="530" y="326" width="3" height="9" fill="#FF0000"/>
<rect x="535" y="330" width="1" height="26" fill="#FF0000"/>
<rect x="534" y="334" width="3" height="18" fill="#FF0000"/>
<rect x="539" y="343" width="1" height="33" fill="#FF0000"/>
<rect x="538" y="351" width="3" height="13" fill="#FF0000"/>
<rect x="543" y="355" width="1" height="23" fill="#FF0000"/>
<rect x="542" y="362" width="3" height="1" fill="#FF0000"/>
<rect x="547" y="328" width="1" height="45" fill="#4682B4"/>
<rect x="546" y="330" width="3" height="33" fill="#4682B4"/>
<rect x="551" y="329" width="1" height="59" fill="#FF0000"/>
<rect x="550" y="330" width="3" height="50" fill="#FF0000"/>
<rect x="555" y="304" width="1" height="77" fill="#4682B4"/>
<rect x="554" y="310" width="3" height="70" fill="#4682B4"/>
<rect x="559" y="298" width="1" height="19" fill="#4682B4"/>
<rect x="558" y="303" width="3" height="8" fill="#4682B4"/>
<rect x="563" y="279" width="1" height="34" fill="#4682B4"/>
<rect x="562" y="287" width="3" height="17" fill="#4682B4"/>
<rect x="567" y="285" width="1" height="29" fill="#FF0000"/>
<rect x="566" y="287" width="3" height="3" fill="#FF0000"/>
<rect x="571" y="244" width="1" height="53" fill="#4682B4"/>
<rect x="570" y="251" width="3" height="39" fill="#4682B4"/>
<rect x="575" y="241" width="1" height="19" fill="#4682B4"/>
<rect x="574" y="245" width="3" height="7" fill="#4682B4"/>
<rect x="579" y="230" width="1" height="27" fill="#FF0000"/>
<rect x="578" y="245" width="3" height="7" fill="#FF0000"/>
<rect x="583" y="242" width="1" height="17" fill="#4682B4"/>
<rect x="582" y="248" width="3" height="4" fill="#4682B4"/>
<rect x="587" y="238" width="1" height="25" fill="#4682B4"/>
<rect x="586" y="248" width="3" height="3" fill="#4682B4"/>
<rect x="591" y="233" width="1" height="23" fill="#4682B4"/>
<rect x="590" y="237" width="3" height="11" fill="#4682B4"/>
<rect x="595" y="210" width="1" height="40" fill="#FF0000"/>
<rect x="594" y="237" width="3" height="7" fill="#FF0000"/>
<rect x="599" y="236" width="1" height="30" fill="#FF0000"/>
<rect x="598" y="243" width="3" height="23" fill="#FF0000"/>
<rect x="603" y="227" width="1" height="38" fill="#4682B4"/>
<rect x="602" y="247" width="3" height="18" fill="#4682B4"/>
<rect x="607" y="236" width="1" height="20" fill="#FF0000"/>
<rect x="606" y="246" width="3" height="6" fill="#FF0000"/>
<rect x="611" y="214" width="1" height="47" fill="#FF0000"/>
<rect x="610" y="247" width="3" height="9" fill="#FF0000"/>
<rect x="615" y="239" width="1" height="33" fill="#FF0000"/>
<rect x="614" y="255" width="3" height="14" fill="#FF0000"/>
<rect x="619" y="258" width="1" height="30" fill="#FF0000"/>
<rect x="618" y="268" width="3" height="18" fill="#FF0000"/>
<rect x="623" y="273" width="1" height="31" fill="#FF0000"/>
<rect x="622" y="285" width="3" height="9" fill="#FF0000"/>
<rect x="627" y="241" width="1" height="57" fill="#4682B4"/>
<rect x="626" y="248" width="3" height="46" fill="#4682B4"/>
<rect x="631" y="242" width="1" height="16" fill="#FF0000"/>
<rect x="630" y="248" width="3" height="6" fill="#FF0000"/>
<rect x="635" y="230" width="1" height="31" fill="#4682B4"/>
<rect x="634" y="231" width="3" height="25" fill="#4682B4"/>
<rect x="639" y="185" width="1" height="55" fill="#4682B4"/>
<rect x="638" y="190" width="3" height="42" fill="#4682B4"/>
<rect x="643" y="155" width="1" height="36" fill="#4682B4"/>
<rect x="642" y="166" width="3" height="25" fill="#4682B4"/>
<rect x="647" y="157" width="1" height="29" fill="#FF0000"/>
<rect x="646" y="167" width="3" height="13" fill="#FF0000"/>
<rect x="651" y="144" width="1" height="43" fill="#4682B4"/>
<rect x="650" y="148" width="3" height="32" fill="#4682B4"/>
<rect x="655" y="140" width="1" height="32" fill="#FF0000"/>
<rect x="654" y="148" width="3" height="16" fill="#FF0000"/>
<rect x="659" y="154" width="1" height="19" fill="#4682B4"/>
<rect x="658" y="158" width="3" height="8" fill="#4682B4"/>
<rect x="663" y="113" width="1" height="50" fill="#4682B4"/>
<rect x="662" y="122" width="3" height="37" fill="#4682B4"/>
<rect x="667" y="121" width="1" height="30" fill="#FF0000"/>
<rect x="666" y="122" width="3" height="14" fill="#FF0000"/>
<rect x="671" y="124" width="1" height="25" fill="#4682B4"/>
<rect x="670" y="130" width="3" height="7" fill="#4682B4"/>
<rect x="675" y="92" width="1" height="46" fill="#4682B4"/>
<rect x="674" y="93" width="3" height="38" fill="#4682B4"/>
<rect x="679" y="84" width="1" height="27" fill="#FF0000"/>
<rect x="678" y="93" width="3" height="3" fill="#FF0000"/>
<rect x="683" y="74" width="1" height="38" fill="#4682B4"/>
<rect x="682" y="74" width="3" height="24" fill="#4682B4"/>
<rect x="687" y="49" width="1" height="67" fill="#FF0000"/>
<rect x="686" y="74" width="3" height="34" fill="#FF0000"/>
<rect x="691" y="102" width="1" height="47" fill="#FF0000"/>
<rect x="690" y="107" width="3" height="32" fill="#FF0000"/>
<rect x="695" y="119" width="1" height="35" fill="#4682B4"/>
<rect x="694" y="124" width="3" height="15" fill="#4682B4"/>
<rect x="699" y="110" width="1" height="48" fill="#FF0000"/>
<rect x="698" y="124" width="3" height="34" fill="#FF0000"/>
<rect x="703" y="155" width="1" height="28" fill="#FF0000"/>
<rect x="702" y="157" width="3" height="13" fill="#FF0000"/>
<rect x="707" y="165" width="1" height="25" fill="#4682B4"/>
<rect x="706" y="166" width="3" height="6" fill="#4682B4"/>
<rect x="711" y="135" width="1" height="35" fill="#4682B4"/>
<rect x="710" y="156" width="3" height="11" fill="#4682B4"/>
<rect x="715" y="110" width="1" height="54" fill="#4682B4"/>
<rect x="714" y="111" width="3" height="46" fill="#4682B4"/>
<rect x="719" y="100" width="1" height="30" fill="#FF0000"/>
<rect x="718" y="111" width="3" height="12" fill="#FF0000"/>
<rect x="723" y="113" width="1" height="76" fill="#FF0000"/>
<rect x="722" y="124" width="3" height="45" fill="#FF0000"/>
<rect x="727" y="158" width="1" height="28" fill="#FF0000"/>
<rect x="726" y="168" width="3" height="8" fill="#FF0000"/>
<rect x="731" y="154" width="1" height="24" fill="#4682B4"/>
<rect x="730" y="160" width="3" height="12" fill="#4682B4"/>
<rect x="735" y="136" width="1" height="38" fill="#4682B4"/>
<rect x="734" y="139" width="3" height="21" fill="#4682B4"/>
<rect x="739" y="111" width="1" height="42" fill="#4682B4"/>
<rect x="738" y="122" width="3" height="18" fill="#4682B4"/>
<rect x="743" y="120" width="1" height="33" fill="#FF0000"/>
<rect x="742" y="122" width="3" height="26" fill="#FF0000"/>
<rect x="747" y="122" width="1" height="35" fill="#4682B4"/>
<rect x="746" y="134" width="3" height="14" fill="#4682B4"/>
<rect x="751" y="123" width="1" height="15" fill="#FF0000"/>
<rect x="750" y="134" width="3" height="2" fill="#FF0000"/>
<rect x="755" y="119" width="1" height="25" fill="#4682B4"/>
<rect x="754" y="124" width="3" height="14" fill="#4682B4"/>
<rect x="759" y="93" width="1" height="35" fill="#4682B4"/>
<rect x="758" y="97" width="3" height="27" fill="#4682B4"/>
<rect x="763" y="96" width="1" height="40" fill="#FF0000"/>
<rect x="762" y="97" width="3" height="17" fill="#FF0000"/>
<rect x="767" y="80" width="1" height="44" fill="#4682B4"/>
<rect x="766" y="86" width="3" height="29" fill="#4682B4"/>
<rect x="771" y="85" width="1" height="49" fill="#FF0000"/>
<rect x="770" y="86" width="3" height="38" fill="#FF0000"/>
<rect x="775" y="105" width="1" height="23" fill="#4682B4"/>
<rect x="774" y="119" width="3" height="5" fill="#4682B4"/>
<rect x="779" y="69" width="1" height="57" fill="#4682B4"/>
<rect x="778" y="73" width="3" height="45" fill="#4682B4"/>
<rect x="783" y="64" width="1" height="30" fill="#FF0000"/>
<rect x="782" y="73" width="3" height="8" fill="#FF0000"/>
<rect x="787" y="71" width="1" height="66" fill="#FF0000"/>
<rect x="786" y="80" width="3" height="53" fill="#FF0000"/>
<rect x="791" y="88" width="1" height="50" fill="#4682B4"/>
<rect x="790" y="101" width="3" height="32" fill="#4682B4"/>
<rect x="795" y="74" width="1" height="41" fill="#4682B4"/>
<rect x="794" y="78" width="3" height="24" fill="#4682B4"/>
<rect x="799" y="66" width="1" height="36" fill="#FF0000"/>
<rect x="798" y="78" width="3" height="21" fill="#FF0000"/>
<rect x="803" y="87" width="1" height="43" fill="#FF0000"/>
<rect x="802" y="90" width="3" height="36" fill="#FF0000"/>
<rect x="807" y="101" width="1" height="50" fill="#4682B4"/>
<rect x="806" y="106" width="3" height="20" fill="#4682B4"/>
<rect x="811" y="83" width="1" height="32" fill="#4682B4"/>
<rect x="810" y="100" width="3" height="7" fill="#4682B4"/>
<rect x="815" y="75" width="1" height="36" fill="#FF0000"/>
<rect x="814" y="100" width="3" height="3" fill="#FF0000"/>
<rect x="819" y="34" width="1" height="75" fill="#4682B4"/>
<rect x="818" y="50" width="3" height="54" fill="#4682B4"/>
<rect x="823" y="44" width="1" height="22" fill="#FF0000"/>
<rect x="822" y="50" width="3" height="4" fill="#FF0000"/>
<rect x="827" y="50" width="1" height="29" fill="#FF0000"/>
<rect x="826" y="55" width="3" height="20" fill="#FF0000"/>
<rect x="831" y="35" width="1" height="49" fill="#4682B4"/>
<rect x="830" y="50" width="3" height="24" fill="#4682B4"/>
<rect x="835" y="40" width="1" height="29" fill="#FF0000"/>
<rect x="834" y="50" width="3" height="18" fill="#FF0000"/>
<rect x="839" y="53" width="1" height="40" fill="#FF0000"/>
<rect x="838" y="66" width="3" height="20" fill="#FF0000"/>
<rect x="843" y="75" width="1" height="45" fill="#FF0000"/>
<rect x="842" y="85" width="3" height="18" fill="#FF0000"/>
<rect x="847" y="79" width="1" height="26" fill="#4682B4"/>
<rect x="846" y="97" width="3" height="6" fill="#4682B4"/>
<rect x="851" y="82" width="1" height="30" fill="#FF0000"/>
<rect x="850" y="91" width="3" height="6" fill="#FF0000"/>
<rect x="855" y="96" width="1" height="24" fill="#FF0000"/>
<rect x="854" y="96" width="3" height="5" fill="#FF0000"/>
<rect x="859" y="99" width="1" height="42" fill="#FF0000"/>
<rect x="858" y="100" width="3" height="15" fill="#FF0000"/>
<rect x="863" y="79" width="1" height="39" fill="#4682B4"/>
<rect x="862" y="89" width="3" height="27" fill="#4682B4"/>
<rect x="867" y="64" width="1" height="34" fill="#4682B4"/>
<rect x="866" y="89" width="3" height="1" fill="#4682B4"/>
<rect x="871" y="75" width="1" height="29" fill="#4682B4"/>
<rect x="870" y="89" width="3" height="1" fill="#4682B4"/>
<rect x="875" y="71" width="1" height="23" fill="#4682B4"/>
<rect x="874" y="74" width="3" height="16" fill="#4682B4"/>
<rect x="879" y="71" width="1" height="72" fill="#FF0000"/>
<rect x="878" y="74" width="3" height="61" fill="#FF0000"/>
<rect x="883" y="134" width="1" height="46" fill="#FF0000"/>
<rect x="882" y="134" width="3" height="35" fill="#FF0000"/>
<rect x="887" y="165" width="1" height="28" fill="#FF0000"/>
<rect x="886" y="168" width="3" height="20" fill="#FF0000"/>
<rect x="891" y="184" width="1" height="57" fill="#FF0000"/>
<rect x="890" y="187" width="3" height="44" fill="#FF0000"/>
<rect x="895" y="221" width="1" height="17" fill="#4682B4"/>
<rect x="894" y="224" width="3" height="7" fill="#4682B4"/>
<rect x="899" y="210" width="1" height="22" fill="#4682B4"/>
<rect x="898" y="216" width="3" height="12" fill="#4682B4"/>
<rect x="903" y="209" width="1" height="24" fill="#4682B4"/>
<rect x="902" y="211" width="3" height="5" fill="#4682B4"/>
<rect x="907" y="193" width="1" height="20" fill="#4682B4"/>
<rect x="906" y="207" width="3" height="5" fill="#4682B4"/>
<rect x="911" y="200" width="1" height="31" fill="#FF0000"/>
<rect x="910" y="207" width="3" height="21" fill="#FF0000"/>
<rect x="915" y="219" width="1" height="31" fill="#FF0000"/>
<rect x="914" y="230" width="3" height="10" fill="#FF0000"/>
<rect x="919" y="182" width="1" height="71" fill="#4682B4"/>
<rect x="918" y="197" width="3" height="43" fill="#4682B4"/>
<rect x="923" y="164" width="1" height="37" fill="#4682B4"/>
<rect x="922" y="187" width="3" height="12" fill="#4682B4"/>
<rect x="927" y="174" width="1" height="50" fill="#FF0000"/>
<rect x="926" y="188" width="3" height="28" fill="#FF0000"/>
<rect x="931" y="204" width="1" height="37" fill="#FF0000"/>
<rect x="930" y="216" width="3" height="21" fill="#FF0000"/>
<rect x="935" y="232" width="1" height="39" fill="#FF0000"/>
<rect x="934" y="236" width="3" height="26" fill="#FF0000"/>
<rect x="939" y="259" width="1" height="38" fill="#FF0000"/>
<rect x="938" y="262" width="3" height="17" fill="#FF0000"/>
<rect x="943" y="263" width="1" height="18" fill="#4682B4"/>
<rect x="942" y="271" width="3" height="8" fill="#4682B4"/>
<rect x="947" y="258" width="1" height="38" fill="#FF0000"/>
<rect x="946" y="272" width="3" height="18" fill="#FF0000"/>
<rect x="951" y="271" width="1" height="33" fill="#FF0000"/>
<rect x="950" y="290" width="3" height="2" fill="#FF0000"/>
<rect x="955" y="283" width="1" height="30" fill="#FF0000"/>
<rect x="954" y="292" width="3" height="20" fill="#FF0000"/>
<rect x="959" y="271" width="1" height="60" fill="#4682B4"/>
<rect x="958" y="295" width="3" height="17" fill="#4682B4"/>
<rect x="963" y="252" width="1" height="48" fill="#4682B4"/>
<rect x="962" y="272" width="3" height="24" fill="#4682B4"/>
<rect x="967" y="266" width="1" height="17" fill="#FF0000"/>
<rect x="966" y="272" width="3" height="5" fill="#FF0000"/>
<rect x="971" y="255" width="1" height="38" fill="#FF0000"/>
<rect x="970" y="282" width="3" height="9" fill="#FF0000"/>
<rect x="975" y="261" width="1" height="32" fill="#4682B4"/>
<rect x="974" y="262" width="3" height="29" fill="#4682B4"/>
<rect x="979" y="251" width="1" height="44" fill="#FF0000"/>
<rect x="978" y="262" width="3" height="3" fill="#FF0000"/>
<rect x="983" y="246" width="1" height="33" fill="#4682B4"/>
<rect x="982" y="252" width="3" height="13" fill="#4682B4"/>
<rect x="987" y="223" width="1" height="35" fill="#4682B4"/>
<rect x="986" y="239" width="3" height="14" fill="#4682B4"/>
<rect x="991" y="230" width="1" height="14" fill="#4682B4"/>
<rect x="990" y="237" width="3" height="3" fill="#4682B4"/>
<rect x="995" y="234" width="1" height="41" fill="#FF0000"/>
<rect x="994" y="236" width="3" height="35" fill="#FF0000"/>
<rect x="999" y="233" width="1" height="54" fill="#4682B4"/>
<rect x="998" y="242" width="3" height="29" fill="#4682B4"/>
<rect x="1003" y="222" width="1" height="26" fill="#4682B4"/>
<rect x="1002" y="230" width="3" height="11" fill="#4682B4"/>
<rect x="1007" y="225" width="1" height="54" fill="#FF0000"/>
<rect x="1006" y="230" width="3" height="33" fill="#FF0000"/>
<rect x="1011" y="253" width="1" height="78" fill="#FF0000"/>
<rect x="1010" y="262" width="3" height="46" fill="#FF0000"/>
<rect x="1015" y="296" width="1" height="19" fill="#4682B4"/>
<rect x="1014" y="305" width="3" height="2" fill="#4682B4"/>
<rect x="1019" y="300" width="1" height="25" fill="#FF0000"/>
<rect x="1018" y="303" width="3" height="15" fill="#FF0000"/>
<rect x="1023" y="315" width="1" height="14" fill="#FF0000"/>
<rect x="1022" y="317" width="3" height="7" fill="#FF0000"/>
</g>
<g class="c" fill="none" stroke="#000" stroke-width="1">
<rect x="2.5" y="2.5" width="1548" height="633"/>
<rect x="2.5" y="637.5" width="1548" height="85"/>
</g>
<g class="c" stroke="#000" stroke-width="1">
<line x1="1551" y1="5.5" x2="1553" y2="5.5"/>
<line x1="1551" y1="38.5" x2="1553" y2="38.5"/>
<line x1="1551" y1="71.5" x2="1553" y2="71.5"/>
<line x1="1551" y1="104.5" x2="1553" y2="104.5"/>
<line x1="1551" y1="137.5" x2="1553" y2="137.5"/>
<line x1="1551" y1="170.5" x2="1553" y2="170.5"/>
<line x1="1551" y1="203.5" x2="1553" y2="203.5"/>
<line x1="1551" y1="236.5" x2="1553" y2="236.5"/>
<line x1="1551" y1="269.5" x2="1553" y2="269.5"/>
<line x1="1551" y1="302.5" x2="1553" y2="302.5"/>
<line x1="1551" y1="335.5" x2="1553" y2="335.5"/>
<line x1="1551" y1="368.5" x2="1553" y2="368.5"/>
<line x1="1551" y1="401.5" x2="1553" y2="401.5"/>
<line x1="1551" y1="434.5" x2="1553" y2="434.5"/>
<line x1="1551" y1="467.5" x2="1553" y2="467.5"/>
<line x1="1551" y1="500.5" x2="1553" y2="500.5"/>
<line x1="1551" y1="533.5" x2="1553" y2="533.5"/>
<line x1="1551" y1="566.5" x2="1553" y2="566.5"/>
<line x1="1551" y1="599.5" x2="1553" y2="599.5"/>
<line x1="1551" y1="632.5" x2="1553" y2="632.5"/>
</g>
<g fill="#000">
<text x="1556.00" y="9" fill="#000" stroke="#000" stroke-width="0.2" textLength="33.30" lengthAdjust="spacingAndGlyphs">0.75750</text>
<text x="1556.00" y="42" fill="#000" stroke="#000" stroke-width="0.2" textLength="33.30" lengthAdjust="spacingAndGlyphs">0.75530</text>
<text x="1556.00" y="75" fill="#000" stroke="#000" stroke-width="0.2" textLength="33.30" lengthAdjust="spacingAndGlyphs">0.75315</text>
<text x="1556.00" y="108" fill="#000" stroke="#000" stroke-width="0.2" textLength="33.30" lengthAdjust="spacingAndGlyphs">0.75095</text>
<text x="1556.00" y="141" fill="#000" stroke="#000" stroke-width="0.2" textLength="33.30" lengthAdjust="spacingAndGlyphs">0.74880</text>
<text x="1556.00" y="174" fill="#000" stroke="#000" stroke-width="0.2" textLength="33.30" lengthAdjust="spacingAndGlyphs">0.74660</text>
<text x="1556.00" y="207" fill="#000" stroke="#000" stroke-width="0.2" textLength="33.30" lengthAdjust="spacingAndGlyphs">0.74445</text>
<text x="1556.00" y="240" fill="#000" stroke="#000" stroke-width="0.2" textLength="33.30" lengthAdjust="spacingAndGlyphs">0.74225</text>
<text x="1556.00" y="273" fill="#000" stroke="#000" stroke-width="0.2" textLength="33.30" lengthAdjust="spacingAndGlyphs">0.74010</text>
<text x="1556.00" y="306" fill="#000" stroke="#000" stroke-width="0.2" textLength="33.30" lengthAdjust="spacingAndGlyphs">0.73790</text>
<text x="1556.00" y="339" fill="#000" stroke="#000" stroke-width="0.2" textLength="33.30" lengthAdjust="spacingAndGlyphs">0.73575</text>
<text x="1556.00" y="372" fill="#000" stroke="#000" stroke-width="0.2" textLength="33.30" lengthAdjust="spacingAndGlyphs">0.73355</text>
<text x="1556.00" y="405" fill="#000" stroke="#000" stroke-width="0.2" textLength="33.30" lengthAdjust="spacingAndGlyphs">0.73140</text>
<text x="1556.00" y="438" fill="#000" stroke="#000" stroke-width="0.2" textLength="33.30" lengthAdjust="spacingAndGlyphs">0.72920</text>
<text x="1556.00" y="471" fill="#000" stroke="#000" stroke-width="0.2" textLength="33.30" lengthAdjust="spacingAndGlyphs">0.72705</text>
<text x="1556.00" y="504" fill="#000" stroke="#000" stroke-width="0.2" textLength="33.30" lengthAdjust="spacingAndGlyphs">0.72485</text>
<text x="1556.00" y="537" fill="#000" stroke="#000" stroke-width="0.2" textLength="33.30" lengthAdjust="spacingAndGlyphs">0.72270</text>
<text x="1556.00" y="570" fill="#000" stroke="#000" stroke-width="0.2" textLength="33.30" lengthAdjust="spacingAndGlyphs">0.72050</text>
<text x="1556.00" y="603" fill="#000" stroke="#000" stroke-width="0.2" textLength="33.30" lengthAdjust="spacingAndGlyphs">0.71835</text>
<text x="1556.00" y="636" fill="#000" stroke="#000" stroke-width="0.2" textLength="33.30" lengthAdjust="spacingAndGlyphs">0.71615</text>
</g>
<rect class="c" x="1552" y="318" width="41" height="11" fill="#000"/>
<text x="1556.00" y="327" fill="#fff" stroke="#fff" stroke-width="0.2" textLength="33.30" lengthAdjust="spacingAndGlyphs">0.73651</text>
<text x="1488.52" y="47" fill="#000080" stroke="#000080" stroke-width="0.2" textLength="60.68" lengthAdjust="spacingAndGlyphs">0.0 @ 0.75463</text>
<text x="1483.51" y="181" fill="#000080" stroke="#000080" stroke-width="0.2" textLength="65.69" lengthAdjust="spacingAndGlyphs">23.6 @ 0.74576</text>
<text x="1483.51" y="264" fill="#000080" stroke="#000080" stroke-width="0.2" textLength="65.69" lengthAdjust="spacingAndGlyphs">38.2 @ 0.74027</text>
<text x="1483.51" y="332" fill="#000080" stroke="#000080" stroke-width="0.2" textLength="65.69" lengthAdjust="spacingAndGlyphs">50.0 @ 0.73584</text>
<text x="1483.51" y="399" fill="#000080" stroke="#000080" stroke-width="0.2" textLength="65.69" lengthAdjust="spacingAndGlyphs">61.8 @ 0.73140</text>
<text x="1483.51" y="482" fill="#000080" stroke="#000080" stroke-width="0.2" textLength="65.69" lengthAdjust="spacingAndGlyphs">76.4 @ 0.72591</text>
<text x="1478.51" y="617" fill="#000080" stroke="#000080" stroke-width="0.2" textLength="70.69" lengthAdjust="spacingAndGlyphs">100.0 @ 0.71704</text>
<text x="1483.51" y="121" fill="#A0A0A0" stroke="#A0A0A0" stroke-width="0.2" textLength="65.69" lengthAdjust="spacingAndGlyphs">50.0 @ 0.74970</text>
<text x="1483.51" y="304" fill="#A0A0A0" stroke="#A0A0A0" stroke-width="0.2" textLength="65.69" lengthAdjust="spacingAndGlyphs">61.8 @ 0.73766</text>
<text x="1483.51" y="530" fill="#A0A0A0" stroke="#A0A0A0" stroke-width="0.2" textLength="65.69" lengthAdjust="spacingAndGlyphs">76.4 @ 0.72277</text>
<path d="M6 9 L13 9 L9.5 13 Z" fill="#000"/>
<text x="18.60" y="13.5" fill="#000" stroke="#000" stroke-width="0.2" textLength="55.60" lengthAdjust="spacingAndGlyphs">AUDUSD,H4</text>
<text x="80.40" y="13.5" fill="#000" stroke="#000" stroke-width="0.2" textLength="32.70" lengthAdjust="spacingAndGlyphs">0.73696</text>
<text x="116.40" y="13.5" fill="#000" stroke="#000" stroke-width="0.2" textLength="32.70" lengthAdjust="spacingAndGlyphs">0.73704</text>
<text x="152.40" y="13.5" fill="#000" stroke="#000" stroke-width="0.2" textLength="32.70" lengthAdjust="spacingAndGlyphs">0.73618</text>
<text x="188.40" y="13.5" fill="#000" stroke="#000" stroke-width="0.2" textLength="32.70" lengthAdjust="spacingAndGlyphs">0.73651</text>
<g class="c">
<line x1="4" y1="655.5" x2="1548" y2="655.5" stroke="#C0C0C0" stroke-dasharray="3 3"/>
<line x1="4" y1="705.5" x2="1548" y2="705.5" stroke="#C0C0C0" stroke-dasharray="3 3"/>
</g>
<path d="M563 644h13v1h-13zM640 644h2v1h-2zM682 644h2v1h-2zM576 645h2v1h-2zM682 645h2v1h-2zM647 647h5v1h-5zM222 649h3v1h-3zM162 650h2v1h-2zM219 650h3v1h-3zM225 650h2v1h-2zM368 650h2v1h-2zM506 650h2v1h-2zM450 651h2v1h-2zM448 652h2v1h-2zM655 652h5v1h-5zM415 653h3v1h-3zM766 653h2v1h-2zM983 653h2v1h-2zM418 654h2v1h-2zM466 654h2v1h-2zM989 655h3v1h-3zM278 656h2v1h-2zM987 656h2v1h-2zM83 657h2v1h-2zM278 657h2v1h-2zM663 657h2v1h-2zM761 657h2v1h-2zM823 657h2v1h-2zM31 658h3v1h-3zM455 658h3v1h-3zM590 658h2v1h-2zM665 658h2v1h-2zM670 658h2v1h-2zM759 658h2v1h-2zM825 658h2v1h-2zM458 659h3v1h-3zM587 659h3v1h-3zM667 659h3v1h-3zM461 660h3v1h-3zM828 660h2v1h-2zM874 660h2v1h-2zM271 661h5v1h-5zM382 661h2v1h-2zM871 661h3v1h-3zM379 662h3v1h-3zM384 662h2v1h-2zM719 663h2v1h-2zM978 663h2v1h-2zM387 664h5v1h-5zM975 664h3v1h-3zM746 666h2v1h-2zM972 666h2v1h-2zM744 667h2v1h-2zM967 667h5v1h-5zM995 668h2v1h-2zM1005 668h3v1h-3zM926 669h2v1h-2zM997 669h2v1h-2zM1002 669h3v1h-3zM924 670h2v1h-2zM999 670h3v1h-3zM529 672h3v1h-3zM263 673h3v1h-3zM527 673h2v1h-2zM266 674h2v1h-2zM348 677h2v1h-2zM778 677h2v1h-2zM479 678h3v1h-3zM775 678h3v1h-3zM351 679h2v1h-2zM482 679h4v1h-4zM353 680h3v1h-3zM486 680h2v1h-2zM521 682h2v1h-2zM519 683h2v1h-2zM793 684h2v1h-2zM791 685h2v1h-2zM808 686h2v1h-2zM402 687h2v1h-2zM399 688h3v1h-3zM47 690h5v1h-5zM43 692h3v1h-3zM307 692h2v1h-2zM914 692h2v1h-2zM309 693h2v1h-2zM549 694h2v1h-2zM547 695h2v1h-2zM856 697h2v1h-2zM852 700h2v1h-2zM176 701h2v1h-2zM610 701h2v1h-2zM182 702h2v1h-2zM179 703h3v1h-3zM604 703h2v1h-2zM848 703h2v1h-2zM95 707h3v1h-3zM246 707h2v1h-2zM98 708h3v1h-3zM243 708h3v1h-3zM101 709h2v1h-2zM950 709h2v1h-2zM942 710h8v1h-8zM699 711h7v1h-7zM939 711h3v1h-3zM14 712h2v1h-2zM706 712h2v1h-2zM14 713h2v1h-2zM59 713h2v1h-2zM954 714h2v1h-2zM619 715h3v1h-3zM887 715h3v1h-3zM291 716h2v1h-2zM622 716h2v1h-2zM890 716h6v1h-6zM293 717h2v1h-2zM132 718h2v1h-2zM138 719h2v1h-2zM135 720h3v1h-3zM3 664h1v4h-1zM4 668h1v6h-1zM5 674h1v6h-1zM6 680h1v6h-1zM7 686h1v6h-1zM8 692h1v5h-1zM9 697h1v4h-1zM10 701h1v5h-1zM11 706h1v3h-1zM12 709h1v2h-1zM13 711h1v1h-1zM15 714h1v1h-1zM16 708h1v4h-1zM17 704h1v4h-1zM18 700h1v4h-1zM19 697h1v3h-1zM20 693h1v4h-1zM21 690h1v3h-1zM22 686h1v4h-1zM23 683h1v3h-1zM24 681h1v2h-1zM25 678h1v3h-1zM26 676h1v2h-1zM27 672h1v4h-1zM28 668h1v4h-1zM29 664h1v4h-1zM30 660h1v4h-1zM31 657h1v1h-1zM31 659h1v1h-1zM34 659h1v1h-1zM35 660h1v3h-1zM36 663h1v4h-1zM37 667h1v4h-1zM38 671h1v4h-1zM39 675h1v4h-1zM40 679h1v4h-1zM41 683h1v4h-1zM42 687h1v4h-1zM43 691h1v1h-1zM43 693h1v1h-1zM46 691h1v1h-1zM52 691h1v2h-1zM53 693h1v1h-1zM54 694h1v2h-1zM55 696h1v3h-1zM56 699h1v5h-1zM57 704h1v4h-1zM58 708h1v5h-1zM59 714h1v2h-1zM60 712h1v1h-1zM61 710h1v2h-1zM62 708h1v2h-1zM63 706h1v2h-1zM64 704h1v2h-1zM65 701h1v3h-1zM66 699h1v2h-1zM67 696h1v3h-1zM68 694h1v2h-1zM69 691h1v3h-1zM70 689h1v2h-1zM71 687h1v2h-1zM72 686h1v1h-1zM73 684h1v2h-1zM74 683h1v1h-1zM75 681h1v2h-1zM76 678h1v3h-1zM77 674h1v4h-1zM78 671h1v3h-1zM79 668h1v3h-1zM80 665h1v3h-1zM81 661h1v4h-1zM82 658h1v3h-1zM83 656h1v1h-1zM84 658h1v1h-1zM85 659h1v2h-1zM86 661h1v2h-1zM87 663h1v3h-1zM88 666h1v4h-1zM89 670h1v5h-1zM90 675h1v4h-1zM91 679h1v6h-1zM92 685h1v6h-1zM93 691h1v7h-1zM94 698h1v6h-1zM95 704h1v3h-1zM103 710h1v1h-1zM104 709h1v1h-1zM105 708h1v1h-1zM106 707h1v1h-1zM107 705h1v2h-1zM108 703h1v2h-1zM109 701h1v2h-1zM110 699h1v2h-1zM111 695h1v4h-1zM112 689h1v6h-1zM113 683h1v6h-1zM114 677h1v6h-1zM115 673h1v4h-1zM116 669h1v4h-1zM117 666h1v3h-1zM118 662h1v4h-1zM119 660h1v2h-1zM120 662h1v4h-1zM121 666h1v4h-1zM122 670h1v4h-1zM123 674h1v5h-1zM124 679h1v6h-1zM125 685h1v7h-1zM126 692h1v6h-1zM127 698h1v6h-1zM128 704h1v4h-1zM129 708h1v4h-1zM130 712h1v4h-1zM131 716h1v2h-1zM134 719h1v1h-1zM139 718h1v1h-1zM140 716h1v2h-1zM141 713h1v3h-1zM142 711h1v2h-1zM143 708h1v3h-1zM144 705h1v3h-1zM145 703h1v2h-1zM146 700h1v3h-1zM147 696h1v4h-1zM148 691h1v5h-1zM149 685h1v6h-1zM150 680h1v5h-1zM151 676h1v4h-1zM152 674h1v2h-1zM153 672h1v2h-1zM154 670h1v2h-1zM155 668h1v2h-1zM156 664h1v4h-1zM157 660h1v4h-1zM158 656h1v4h-1zM159 654h1v2h-1zM160 653h1v1h-1zM161 651h1v2h-1zM163 649h1v1h-1zM164 651h1v3h-1zM165 654h1v3h-1zM166 657h1v3h-1zM167 660h1v4h-1zM168 664h1v5h-1zM169 669h1v4h-1zM170 673h1v5h-1zM171 678h1v5h-1zM172 683h1v5h-1zM173 688h1v5h-1zM174 693h1v5h-1zM175 698h1v3h-1zM178 702h1v1h-1zM183 701h1v1h-1zM184 699h1v2h-1zM185 696h1v3h-1zM186 694h1v2h-1zM187 691h1v3h-1zM188 688h1v3h-1zM189 686h1v2h-1zM190 683h1v3h-1zM191 680h1v3h-1zM192 677h1v3h-1zM193 674h1v3h-1zM194 671h1v3h-1zM195 669h1v2h-1zM196 671h1v3h-1zM197 674h1v3h-1zM198 677h1v3h-1zM199 680h1v3h-1zM200 683h1v4h-1zM201 687h1v4h-1zM202 691h1v4h-1zM203 695h1v3h-1zM204 698h1v3h-1zM205 701h1v2h-1zM206 703h1v3h-1zM207 706h1v2h-1zM208 702h1v4h-1zM209 699h1v3h-1zM210 695h1v4h-1zM211 690h1v5h-1zM212 684h1v6h-1zM213 678h1v6h-1zM214 672h1v6h-1zM215 666h1v6h-1zM216 662h1v4h-1zM217 657h1v5h-1zM218 653h1v4h-1zM219 651h1v2h-1zM227 651h1v1h-1zM228 652h1v2h-1zM229 654h1v1h-1zM230 655h1v2h-1zM231 657h1v2h-1zM232 659h1v3h-1zM233 662h1v2h-1zM234 664h1v3h-1zM235 667h1v6h-1zM236 673h1v8h-1zM237 681h1v8h-1zM238 689h1v8h-1zM239 697h1v5h-1zM240 702h1v2h-1zM241 704h1v2h-1zM242 706h1v2h-1zM247 705h1v2h-1zM248 701h1v4h-1zM249 697h1v4h-1zM250 693h1v4h-1zM251 690h1v3h-1zM252 686h1v4h-1zM253 682h1v4h-1zM254 678h1v4h-1zM255 676h1v2h-1zM256 674h1v2h-1zM257 672h1v2h-1zM258 670h1v2h-1zM259 669h1v1h-1zM260 670h1v1h-1zM261 671h1v1h-1zM262 672h1v1h-1zM267 673h1v1h-1zM268 670h1v3h-1zM269 666h1v4h-1zM270 663h1v3h-1zM271 662h1v1h-1zM276 659h1v2h-1zM277 658h1v1h-1zM279 655h1v1h-1zM280 658h1v4h-1zM281 662h1v4h-1zM282 666h1v4h-1zM283 670h1v5h-1zM284 675h1v4h-1zM285 679h1v4h-1zM286 683h1v4h-1zM287 687h1v5h-1zM288 692h1v7h-1zM289 699h1v7h-1zM290 706h1v7h-1zM291 713h1v3h-1zM295 718h1v1h-1zM296 717h1v1h-1zM297 715h1v2h-1zM298 714h1v1h-1zM299 712h1v2h-1zM300 710h1v2h-1zM301 707h1v3h-1zM302 705h1v2h-1zM303 702h1v3h-1zM304 699h1v3h-1zM305 697h1v2h-1zM306 694h1v3h-1zM307 693h1v1h-1zM311 694h1v3h-1zM312 697h1v4h-1zM313 701h1v4h-1zM314 705h1v4h-1zM315 709h1v4h-1zM316 713h1v2h-1zM317 715h1v2h-1zM318 717h1v2h-1zM319 719h1v1h-1zM320 717h1v2h-1zM321 716h1v1h-1zM322 714h1v2h-1zM323 712h1v2h-1zM324 710h1v2h-1zM325 708h1v2h-1zM326 706h1v2h-1zM327 703h1v3h-1zM328 699h1v4h-1zM329 696h1v3h-1zM330 692h1v4h-1zM331 688h1v4h-1zM332 684h1v4h-1zM333 679h1v5h-1zM334 675h1v4h-1zM335 672h1v3h-1zM336 671h1v1h-1zM337 670h1v1h-1zM338 669h1v1h-1zM339 668h1v1h-1zM340 669h1v1h-1zM341 670h1v1h-1zM342 671h1v1h-1zM343 672h1v1h-1zM344 673h1v1h-1zM345 674h1v1h-1zM346 675h1v1h-1zM347 676h1v1h-1zM350 678h1v1h-1zM355 681h1v1h-1zM356 678h1v2h-1zM357 675h1v3h-1zM358 673h1v2h-1zM359 669h1v4h-1zM360 665h1v4h-1zM361 661h1v4h-1zM362 657h1v4h-1zM363 655h1v2h-1zM364 653h1v2h-1zM365 652h1v1h-1zM366 650h1v2h-1zM367 649h1v1h-1zM370 651h1v1h-1zM371 652h1v1h-1zM372 653h1v1h-1zM373 654h1v2h-1zM374 656h1v1h-1zM375 657h1v1h-1zM376 658h1v1h-1zM377 659h1v2h-1zM378 661h1v1h-1zM386 663h1v1h-1zM391 665h1v1h-1zM392 666h1v3h-1zM393 669h1v2h-1zM394 671h1v3h-1zM395 674h1v3h-1zM396 677h1v3h-1zM397 680h1v4h-1zM398 684h1v3h-1zM399 687h1v1h-1zM404 686h1v1h-1zM405 684h1v2h-1zM406 683h1v1h-1zM407 680h1v3h-1zM408 674h1v6h-1zM409 669h1v5h-1zM410 663h1v6h-1zM411 660h1v3h-1zM412 658h1v2h-1zM413 656h1v2h-1zM414 654h1v2h-1zM419 655h1v2h-1zM420 657h1v6h-1zM421 663h1v5h-1zM422 668h1v6h-1zM423 674h1v5h-1zM424 679h1v6h-1zM425 685h1v6h-1zM426 691h1v6h-1zM427 697h1v3h-1zM428 700h1v1h-1zM429 701h1v2h-1zM430 703h1v1h-1zM431 704h1v1h-1zM432 703h1v1h-1zM433 701h1v2h-1zM434 700h1v1h-1zM435 697h1v3h-1zM436 693h1v4h-1zM437 689h1v4h-1zM438 685h1v4h-1zM439 681h1v4h-1zM440 677h1v4h-1zM441 673h1v4h-1zM442 669h1v4h-1zM443 666h1v3h-1zM444 662h1v4h-1zM445 659h1v3h-1zM446 655h1v4h-1zM447 653h1v2h-1zM451 650h1v1h-1zM452 652h1v2h-1zM453 654h1v2h-1zM454 656h1v2h-1zM463 661h1v1h-1zM464 658h1v2h-1zM465 656h1v2h-1zM466 655h1v1h-1zM467 653h1v1h-1zM468 655h1v2h-1zM469 657h1v3h-1zM470 660h1v2h-1zM471 662h1v3h-1zM472 665h1v2h-1zM473 667h1v3h-1zM474 670h1v2h-1zM475 672h1v2h-1zM476 674h1v1h-1zM477 675h1v2h-1zM478 677h1v1h-1zM488 681h1v2h-1zM489 683h1v1h-1zM490 684h1v2h-1zM491 686h1v1h-1zM492 685h1v1h-1zM493 683h1v2h-1zM494 682h1v1h-1zM495 679h1v3h-1zM496 675h1v4h-1zM497 670h1v5h-1zM498 666h1v4h-1zM499 662h1v4h-1zM500 660h1v2h-1zM501 658h1v2h-1zM502 656h1v2h-1zM503 655h1v1h-1zM504 653h1v2h-1zM505 652h1v1h-1zM506 651h1v1h-1zM507 649h1v1h-1zM508 651h1v2h-1zM509 653h1v2h-1zM510 655h1v2h-1zM511 657h1v2h-1zM512 659h1v3h-1zM513 662h1v2h-1zM514 664h1v3h-1zM515 667h1v3h-1zM516 670h1v4h-1zM517 674h1v4h-1zM518 678h1v4h-1zM519 682h1v1h-1zM523 680h1v2h-1zM524 678h1v2h-1zM525 676h1v2h-1zM526 674h1v2h-1zM531 671h1v1h-1zM532 673h1v3h-1zM533 676h1v3h-1zM534 679h1v3h-1zM535 682h1v3h-1zM536 685h1v3h-1zM537 688h1v4h-1zM538 692h1v3h-1zM539 695h1v3h-1zM540 698h1v2h-1zM541 700h1v2h-1zM542 702h1v2h-1zM543 704h1v2h-1zM544 702h1v2h-1zM545 699h1v3h-1zM546 697h1v2h-1zM547 696h1v1h-1zM551 690h1v4h-1zM552 684h1v6h-1zM553 678h1v6h-1zM554 672h1v6h-1zM555 667h1v5h-1zM556 665h1v2h-1zM557 663h1v2h-1zM558 661h1v2h-1zM559 658h1v3h-1zM560 654h1v4h-1zM561 650h1v4h-1zM562 646h1v4h-1zM563 645h1v1h-1zM578 646h1v1h-1zM579 647h1v1h-1zM580 648h1v2h-1zM581 650h1v1h-1zM582 651h1v2h-1zM583 653h1v1h-1zM584 654h1v2h-1zM585 656h1v1h-1zM586 657h1v2h-1zM591 659h1v1h-1zM592 660h1v3h-1zM593 663h1v3h-1zM594 666h1v3h-1zM595 669h1v5h-1zM596 674h1v6h-1zM597 680h1v6h-1zM598 686h1v6h-1zM599 692h1v4h-1zM600 696h1v2h-1zM601 698h1v2h-1zM602 700h1v2h-1zM603 702h1v1h-1zM606 704h1v1h-1zM607 705h1v1h-1zM608 704h1v1h-1zM609 702h1v2h-1zM611 700h1v1h-1zM612 702h1v2h-1zM613 704h1v2h-1zM614 706h1v2h-1zM615 708h1v1h-1zM616 709h1v2h-1zM617 711h1v2h-1zM618 713h1v2h-1zM623 714h1v2h-1zM624 710h1v4h-1zM625 706h1v4h-1zM626 702h1v4h-1zM627 697h1v5h-1zM628 693h1v4h-1zM629 689h1v4h-1zM630 685h1v4h-1zM631 679h1v6h-1zM632 673h1v6h-1zM633 666h1v7h-1zM634 660h1v6h-1zM635 655h1v5h-1zM636 652h1v3h-1zM637 650h1v2h-1zM638 647h1v3h-1zM639 645h1v2h-1zM642 643h1v1h-1zM643 642h1v1h-1zM644 643h1v1h-1zM645 644h1v2h-1zM646 646h1v1h-1zM652 648h1v1h-1zM653 649h1v2h-1zM654 651h1v1h-1zM660 653h1v1h-1zM661 654h1v2h-1zM662 656h1v1h-1zM672 657h1v1h-1zM673 656h1v1h-1zM674 655h1v1h-1zM675 654h1v1h-1zM676 653h1v1h-1zM677 652h1v1h-1zM678 651h1v1h-1zM679 650h1v1h-1zM680 648h1v2h-1zM681 646h1v2h-1zM683 643h1v1h-1zM684 646h1v4h-1zM685 650h1v5h-1zM686 655h1v4h-1zM687 659h1v5h-1zM688 664h1v6h-1zM689 670h1v5h-1zM690 675h1v6h-1zM691 681h1v5h-1zM692 686h1v4h-1zM693 690h1v4h-1zM694 694h1v4h-1zM695 698h1v3h-1zM696 701h1v3h-1zM697 704h1v3h-1zM698 707h1v3h-1zM699 710h1v1h-1zM707 711h1v1h-1zM708 709h1v2h-1zM709 706h1v3h-1zM710 704h1v2h-1zM711 699h1v5h-1zM712 692h1v7h-1zM713 686h1v6h-1zM714 679h1v7h-1zM715 674h1v5h-1zM716 671h1v3h-1zM717 667h1v4h-1zM718 664h1v3h-1zM719 662h1v1h-1zM720 664h1v1h-1zM721 665h1v1h-1zM722 666h1v2h-1zM723 668h1v3h-1zM724 671h1v6h-1zM725 677h1v6h-1zM726 683h1v6h-1zM727 689h1v4h-1zM728 693h1v3h-1zM729 696h1v2h-1zM730 698h1v3h-1zM731 701h1v2h-1zM732 699h1v2h-1zM733 697h1v2h-1zM734 695h1v2h-1zM735 691h1v4h-1zM736 686h1v5h-1zM737 682h1v4h-1zM738 677h1v5h-1zM739 674h1v3h-1zM740 672h1v2h-1zM741 671h1v1h-1zM742 669h1v2h-1zM743 668h1v1h-1zM747 665h1v1h-1zM748 667h1v2h-1zM749 669h1v2h-1zM750 671h1v2h-1zM751 673h1v1h-1zM752 671h1v2h-1zM753 670h1v1h-1zM754 668h1v2h-1zM755 666h1v2h-1zM756 664h1v2h-1zM757 662h1v2h-1zM758 660h1v2h-1zM759 659h1v1h-1zM763 656h1v1h-1zM764 655h1v1h-1zM765 654h1v1h-1zM767 652h1v1h-1zM767 654h1v1h-1zM768 655h1v4h-1zM769 659h1v4h-1zM770 663h1v4h-1zM771 667h1v4h-1zM772 671h1v2h-1zM773 673h1v2h-1zM774 675h1v2h-1zM775 677h1v1h-1zM779 676h1v1h-1zM780 673h1v3h-1zM781 669h1v4h-1zM782 666h1v3h-1zM783 664h1v2h-1zM784 666h1v2h-1zM785 668h1v3h-1zM786 671h1v2h-1zM787 673h1v3h-1zM788 676h1v3h-1zM789 679h1v2h-1zM790 681h1v3h-1zM791 684h1v1h-1zM795 682h1v2h-1zM796 679h1v3h-1zM797 675h1v4h-1zM798 672h1v3h-1zM799 670h1v2h-1zM800 672h1v2h-1zM801 674h1v2h-1zM802 676h1v2h-1zM803 678h1v3h-1zM804 681h1v2h-1zM805 683h1v2h-1zM806 685h1v2h-1zM807 687h1v1h-1zM810 685h1v1h-1zM811 683h1v2h-1zM812 681h1v2h-1zM813 678h1v3h-1zM814 676h1v2h-1zM815 673h1v3h-1zM816 670h1v3h-1zM817 668h1v2h-1zM818 665h1v3h-1zM819 663h1v2h-1zM820 661h1v2h-1zM821 660h1v1h-1zM822 658h1v2h-1zM827 659h1v1h-1zM830 661h1v1h-1zM831 662h1v2h-1zM832 664h1v2h-1zM833 666h1v2h-1zM834 668h1v2h-1zM835 670h1v2h-1zM836 672h1v2h-1zM837 674h1v2h-1zM838 676h1v2h-1zM839 678h1v3h-1zM840 681h1v5h-1zM841 686h1v4h-1zM842 690h1v5h-1zM843 695h1v3h-1zM844 698h1v2h-1zM845 700h1v2h-1zM846 702h1v2h-1zM847 704h1v1h-1zM850 702h1v1h-1zM851 701h1v1h-1zM854 699h1v1h-1zM855 698h1v1h-1zM858 696h1v1h-1zM859 694h1v2h-1zM860 690h1v4h-1zM861 686h1v4h-1zM862 682h1v4h-1zM863 679h1v3h-1zM864 676h1v3h-1zM865 674h1v2h-1zM866 671h1v3h-1zM867 668h1v3h-1zM868 666h1v2h-1zM869 664h1v2h-1zM870 662h1v2h-1zM875 661h1v2h-1zM876 663h1v4h-1zM877 667h1v4h-1zM878 671h1v4h-1zM879 675h1v4h-1zM880 679h1v5h-1zM881 684h1v4h-1zM882 688h1v5h-1zM883 693h1v5h-1zM884 698h1v5h-1zM885 703h1v5h-1zM886 708h1v5h-1zM887 713h1v2h-1zM896 715h1v1h-1zM897 714h1v1h-1zM898 713h1v1h-1zM899 712h1v1h-1zM900 710h1v2h-1zM901 708h1v2h-1zM902 706h1v2h-1zM903 704h1v2h-1zM904 700h1v4h-1zM905 697h1v3h-1zM906 693h1v4h-1zM907 691h1v2h-1zM908 690h1v1h-1zM909 689h1v1h-1zM910 688h1v1h-1zM911 687h1v1h-1zM912 688h1v2h-1zM913 690h1v1h-1zM914 691h1v1h-1zM915 693h1v1h-1zM916 690h1v2h-1zM917 688h1v2h-1zM918 686h1v2h-1zM919 684h1v2h-1zM920 680h1v4h-1zM921 677h1v3h-1zM922 673h1v4h-1zM923 671h1v2h-1zM927 668h1v1h-1zM927 670h1v1h-1zM928 671h1v4h-1zM929 675h1v4h-1zM930 679h1v4h-1zM931 683h1v4h-1zM932 687h1v5h-1zM933 692h1v5h-1zM934 697h1v5h-1zM935 702h1v3h-1zM936 705h1v2h-1zM937 707h1v2h-1zM938 709h1v2h-1zM952 710h1v2h-1zM953 712h1v1h-1zM954 713h1v1h-1zM955 715h1v1h-1zM956 710h1v4h-1zM957 707h1v3h-1zM958 703h1v4h-1zM959 699h1v4h-1zM960 695h1v4h-1zM961 690h1v5h-1zM962 686h1v4h-1zM963 681h1v5h-1zM964 677h1v4h-1zM965 673h1v4h-1zM966 669h1v4h-1zM967 668h1v1h-1zM974 665h1v1h-1zM979 662h1v1h-1zM980 659h1v3h-1zM981 657h1v2h-1zM982 654h1v3h-1zM983 652h1v1h-1zM985 654h1v1h-1zM986 655h1v1h-1zM991 654h1v1h-1zM992 656h1v4h-1zM993 660h1v3h-1zM994 663h1v4h-1zM995 667h1v1h-1zM1007 667h1v1h-1zM1007 669h1v1h-1zM1008 670h1v4h-1zM1009 674h1v5h-1zM1010 679h1v4h-1zM1011 683h1v4h-1zM1012 687h1v4h-1zM1013 691h1v4h-1zM1014 695h1v4h-1zM1015 699h1v2h-1zM1016 701h1v2h-1zM1017 703h1v1h-1zM1018 704h1v2h-1zM1019 706h1v1h-1zM1020 707h1v1h-1zM1021 708h1v1h-1zM1022 709h1v1h-1zM1023 710h1v1h-1z" fill="#00009A"/>
<path d="M571 644h7v1h-7zM578 645h2v1h-2zM647 645h3v1h-3zM580 646h2v1h-2zM650 646h2v1h-2zM644 647h2v1h-2zM652 647h2v1h-2zM655 649h3v1h-3zM683 649h2v1h-2zM227 650h2v1h-2zM658 650h2v1h-2zM685 650h2v1h-2zM229 651h2v1h-2zM371 652h5v1h-5zM456 654h2v1h-2zM588 654h2v1h-2zM663 654h2v1h-2zM452 655h2v1h-2zM509 655h2v1h-2zM665 655h2v1h-2zM165 656h3v1h-3zM507 656h2v1h-2zM667 656h2v1h-2zM676 656h2v1h-2zM988 656h2v1h-2zM163 657h2v1h-2zM419 657h2v1h-2zM460 657h2v1h-2zM669 657h2v1h-2zM674 657h2v1h-2zM380 658h2v1h-2zM466 658h4v1h-4zM671 658h3v1h-3zM463 659h3v1h-3zM470 659h2v1h-2zM830 659h2v1h-2zM984 659h2v1h-2zM383 660h2v1h-2zM827 660h3v1h-3zM385 661h2v1h-2zM387 662h3v1h-3zM390 663h2v1h-2zM35 664h5v1h-5zM88 664h2v1h-2zM876 664h2v1h-2zM978 665h2v1h-2zM975 666h3v1h-3zM757 667h2v1h-2zM754 668h3v1h-3zM723 669h2v1h-2zM747 669h7v1h-7zM1003 669h5v1h-5zM343 670h2v1h-2zM122 671h2v1h-2zM268 671h2v1h-2zM345 671h2v1h-2zM266 672h2v1h-2zM786 672h3v1h-3zM263 673h3v1h-3zM783 673h3v1h-3zM789 673h2v1h-2zM781 674h2v1h-2zM531 675h5v1h-5zM779 675h2v1h-2zM927 675h5v1h-5zM352 677h2v1h-2zM483 677h2v1h-2zM523 677h2v1h-2zM803 677h2v1h-2zM357 678h2v1h-2zM485 678h2v1h-2zM525 678h2v1h-2zM805 678h2v1h-2zM355 679h2v1h-2zM800 679h2v1h-2zM488 680h2v1h-2zM798 680h2v1h-2zM795 681h3v1h-3zM491 682h5v1h-5zM814 682h2v1h-2zM811 683h3v1h-3zM404 684h2v1h-2zM406 685h2v1h-2zM917 689h2v1h-2zM915 690h2v1h-2zM51 691h3v1h-3zM54 692h2v1h-2zM210 697h2v1h-2zM312 697h2v1h-2zM547 698h5v1h-5zM856 700h2v1h-2zM184 701h2v1h-2zM607 701h3v1h-3zM851 701h5v1h-5zM610 702h3v1h-3zM613 703h2v1h-2zM247 704h3v1h-3zM63 706h5v1h-5zM103 708h5v1h-5zM943 708h2v1h-2zM945 709h2v1h-2zM950 709h3v1h-3zM708 710h2v1h-2zM947 710h3v1h-3zM953 710h2v1h-2zM956 710h2v1h-2zM624 712h2v1h-2zM325 713h2v1h-2zM323 714h2v1h-2zM299 715h2v1h-2zM898 715h2v1h-2zM895 716h3v1h-3zM140 718h2v1h-2zM3 658h1v2h-1zM4 660h1v2h-1zM5 662h1v3h-1zM6 665h1v2h-1zM7 667h1v4h-1zM8 671h1v4h-1zM9 675h1v5h-1zM10 680h1v4h-1zM11 684h1v5h-1zM12 689h1v4h-1zM13 693h1v5h-1zM14 698h1v4h-1zM15 702h1v3h-1zM16 705h1v1h-1zM17 706h1v2h-1zM18 708h1v1h-1zM19 709h1v1h-1zM20 707h1v2h-1zM21 706h1v1h-1zM22 704h1v2h-1zM23 701h1v3h-1zM24 697h1v4h-1zM25 693h1v4h-1zM26 689h1v4h-1zM27 685h1v4h-1zM28 681h1v4h-1zM29 678h1v3h-1zM30 674h1v4h-1zM31 671h1v3h-1zM32 669h1v2h-1zM33 667h1v2h-1zM34 665h1v2h-1zM39 665h1v1h-1zM40 666h1v3h-1zM41 669h1v3h-1zM42 672h1v3h-1zM43 675h1v3h-1zM44 678h1v2h-1zM45 680h1v3h-1zM46 683h1v2h-1zM47 685h1v2h-1zM48 687h1v1h-1zM49 688h1v2h-1zM50 690h1v1h-1zM55 693h1v1h-1zM56 694h1v2h-1zM57 696h1v2h-1zM58 698h1v2h-1zM59 700h1v1h-1zM60 701h1v2h-1zM61 703h1v1h-1zM62 704h1v2h-1zM67 705h1v1h-1zM68 703h1v2h-1zM69 701h1v2h-1zM70 699h1v2h-1zM71 696h1v3h-1zM72 694h1v2h-1zM73 692h1v2h-1zM74 690h1v2h-1zM75 688h1v2h-1zM76 686h1v2h-1zM77 683h1v3h-1zM78 681h1v2h-1zM79 678h1v3h-1zM80 676h1v2h-1zM81 673h1v3h-1zM82 671h1v2h-1zM83 669h1v2h-1zM84 667h1v2h-1zM85 666h1v1h-1zM86 664h1v2h-1zM87 663h1v1h-1zM90 665h1v1h-1zM91 666h1v3h-1zM92 669h1v4h-1zM93 673h1v4h-1zM94 677h1v4h-1zM95 681h1v5h-1zM96 686h1v4h-1zM97 690h1v4h-1zM98 694h1v4h-1zM99 698h1v3h-1zM100 701h1v2h-1zM101 703h1v2h-1zM102 705h1v2h-1zM103 707h1v1h-1zM108 707h1v1h-1zM109 706h1v1h-1zM110 705h1v1h-1zM111 703h1v2h-1zM112 700h1v3h-1zM113 697h1v3h-1zM114 694h1v3h-1zM115 691h1v3h-1zM116 687h1v4h-1zM117 683h1v4h-1zM118 679h1v4h-1zM119 677h1v2h-1zM120 675h1v2h-1zM121 673h1v2h-1zM122 672h1v1h-1zM123 670h1v1h-1zM124 672h1v2h-1zM125 674h1v2h-1zM126 676h1v2h-1zM127 678h1v4h-1zM128 682h1v5h-1zM129 687h1v4h-1zM130 691h1v5h-1zM131 696h1v4h-1zM132 700h1v4h-1zM133 704h1v3h-1zM134 707h1v4h-1zM135 711h1v2h-1zM136 713h1v2h-1zM137 715h1v2h-1zM138 717h1v2h-1zM139 719h1v1h-1zM142 717h1v1h-1zM143 716h1v1h-1zM144 714h1v2h-1zM145 712h1v2h-1zM146 710h1v2h-1zM147 708h1v2h-1zM148 704h1v4h-1zM149 701h1v3h-1zM150 697h1v4h-1zM151 694h1v3h-1zM152 690h1v4h-1zM153 687h1v3h-1zM154 683h1v4h-1zM155 680h1v3h-1zM156 676h1v4h-1zM157 673h1v3h-1zM158 669h1v4h-1zM159 666h1v3h-1zM160 664h1v2h-1zM161 661h1v3h-1zM162 659h1v2h-1zM163 658h1v1h-1zM167 655h1v1h-1zM168 657h1v2h-1zM169 659h1v2h-1zM170 661h1v2h-1zM171 663h1v4h-1zM172 667h1v4h-1zM173 671h1v4h-1zM174 675h1v4h-1zM175 679h1v4h-1zM176 683h1v4h-1zM177 687h1v3h-1zM178 690h1v4h-1zM179 694h1v2h-1zM180 696h1v2h-1zM181 698h1v2h-1zM182 700h1v2h-1zM183 702h1v1h-1zM186 700h1v1h-1zM187 699h1v1h-1zM188 697h1v2h-1zM189 695h1v2h-1zM190 693h1v2h-1zM191 691h1v2h-1zM192 688h1v3h-1zM193 686h1v2h-1zM194 683h1v3h-1zM195 681h1v2h-1zM196 680h1v1h-1zM197 679h1v1h-1zM198 678h1v1h-1zM199 677h1v1h-1zM200 678h1v1h-1zM201 679h1v2h-1zM202 681h1v1h-1zM203 682h1v2h-1zM204 684h1v3h-1zM205 687h1v3h-1zM206 690h1v3h-1zM207 693h1v2h-1zM208 695h1v1h-1zM209 696h1v1h-1zM211 698h1v1h-1zM212 695h1v2h-1zM213 693h1v2h-1zM214 691h1v2h-1zM215 687h1v4h-1zM216 682h1v5h-1zM217 678h1v4h-1zM218 673h1v5h-1zM219 669h1v4h-1zM220 665h1v4h-1zM221 661h1v4h-1zM222 657h1v4h-1zM223 655h1v2h-1zM224 654h1v1h-1zM225 652h1v2h-1zM226 651h1v1h-1zM231 652h1v1h-1zM232 653h1v2h-1zM233 655h1v2h-1zM234 657h1v2h-1zM235 659h1v3h-1zM236 662h1v4h-1zM237 666h1v4h-1zM238 670h1v4h-1zM239 674h1v4h-1zM240 678h1v4h-1zM241 682h1v4h-1zM242 686h1v4h-1zM243 690h1v4h-1zM244 694h1v3h-1zM245 697h1v4h-1zM246 701h1v3h-1zM247 705h1v1h-1zM250 703h1v1h-1zM251 701h1v2h-1zM252 699h1v2h-1zM253 696h1v3h-1zM254 694h1v2h-1zM255 691h1v3h-1zM256 688h1v3h-1zM257 684h1v4h-1zM258 681h1v3h-1zM259 679h1v2h-1zM260 677h1v2h-1zM261 676h1v1h-1zM262 674h1v2h-1zM270 670h1v1h-1zM271 669h1v1h-1zM272 668h1v1h-1zM273 667h1v1h-1zM274 666h1v1h-1zM275 665h1v1h-1zM276 663h1v2h-1zM277 662h1v1h-1zM278 660h1v2h-1zM279 659h1v1h-1zM280 660h1v1h-1zM281 661h1v1h-1zM282 662h1v1h-1zM283 663h1v2h-1zM284 665h1v2h-1zM285 667h1v2h-1zM286 669h1v2h-1zM287 671h1v4h-1zM288 675h1v5h-1zM289 680h1v5h-1zM290 685h1v5h-1zM291 690h1v4h-1zM292 694h1v4h-1zM293 698h1v4h-1zM294 702h1v4h-1zM295 706h1v3h-1zM296 709h1v2h-1zM297 711h1v2h-1zM298 713h1v2h-1zM299 716h1v1h-1zM301 713h1v2h-1zM302 712h1v1h-1zM303 710h1v2h-1zM304 708h1v2h-1zM305 706h1v2h-1zM306 704h1v2h-1zM307 702h1v2h-1zM308 700h1v2h-1zM309 699h1v1h-1zM310 697h1v2h-1zM311 696h1v1h-1zM314 698h1v1h-1zM315 699h1v2h-1zM316 701h1v2h-1zM317 703h1v2h-1zM318 705h1v2h-1zM319 707h1v2h-1zM320 709h1v2h-1zM321 711h1v1h-1zM322 712h1v2h-1zM327 711h1v2h-1zM328 709h1v2h-1zM329 706h1v3h-1zM330 704h1v2h-1zM331 701h1v3h-1zM332 698h1v3h-1zM333 694h1v4h-1zM334 691h1v3h-1zM335 688h1v3h-1zM336 685h1v3h-1zM337 682h1v3h-1zM338 679h1v3h-1zM339 677h1v2h-1zM340 675h1v2h-1zM341 673h1v2h-1zM342 671h1v2h-1zM347 672h1v1h-1zM348 673h1v1h-1zM349 674h1v1h-1zM350 675h1v1h-1zM351 676h1v1h-1zM354 678h1v1h-1zM359 676h1v2h-1zM360 674h1v2h-1zM361 672h1v2h-1zM362 670h1v2h-1zM363 668h1v2h-1zM364 665h1v3h-1zM365 663h1v2h-1zM366 660h1v3h-1zM367 658h1v2h-1zM368 656h1v2h-1zM369 655h1v1h-1zM370 653h1v2h-1zM376 653h1v1h-1zM377 654h1v2h-1zM378 656h1v1h-1zM379 657h1v1h-1zM382 659h1v1h-1zM392 664h1v1h-1zM393 665h1v1h-1zM394 666h1v1h-1zM395 667h1v2h-1zM396 669h1v2h-1zM397 671h1v2h-1zM398 673h1v2h-1zM399 675h1v2h-1zM400 677h1v2h-1zM401 679h1v2h-1zM402 681h1v2h-1zM403 683h1v1h-1zM407 686h1v1h-1zM408 683h1v2h-1zM409 680h1v3h-1zM410 678h1v2h-1zM411 675h1v3h-1zM412 672h1v3h-1zM413 670h1v2h-1zM414 667h1v3h-1zM415 664h1v3h-1zM416 662h1v2h-1zM417 660h1v2h-1zM418 658h1v2h-1zM419 656h1v1h-1zM421 658h1v2h-1zM422 660h1v1h-1zM423 661h1v2h-1zM424 663h1v4h-1zM425 667h1v4h-1zM426 671h1v4h-1zM427 675h1v4h-1zM428 679h1v4h-1zM429 683h1v4h-1zM430 687h1v4h-1zM431 691h1v4h-1zM432 695h1v2h-1zM433 697h1v2h-1zM434 699h1v2h-1zM435 701h1v1h-1zM436 699h1v2h-1zM437 698h1v1h-1zM438 696h1v2h-1zM439 694h1v2h-1zM440 691h1v3h-1zM441 688h1v3h-1zM442 685h1v3h-1zM443 681h1v4h-1zM444 677h1v4h-1zM445 673h1v4h-1zM446 669h1v4h-1zM447 666h1v3h-1zM448 663h1v3h-1zM449 661h1v2h-1zM450 658h1v3h-1zM451 656h1v2h-1zM454 654h1v1h-1zM455 653h1v1h-1zM458 655h1v1h-1zM459 656h1v1h-1zM462 658h1v1h-1zM472 660h1v1h-1zM473 661h1v1h-1zM474 662h1v1h-1zM475 663h1v2h-1zM476 665h1v2h-1zM477 667h1v2h-1zM478 669h1v2h-1zM479 671h1v1h-1zM480 672h1v2h-1zM481 674h1v1h-1zM482 675h1v2h-1zM487 679h1v1h-1zM490 681h1v1h-1zM496 681h1v1h-1zM497 679h1v2h-1zM498 678h1v1h-1zM499 676h1v2h-1zM500 673h1v3h-1zM501 671h1v2h-1zM502 668h1v3h-1zM503 665h1v3h-1zM504 663h1v2h-1zM505 660h1v3h-1zM506 658h1v2h-1zM507 657h1v1h-1zM511 654h1v1h-1zM512 655h1v1h-1zM513 656h1v1h-1zM514 657h1v1h-1zM515 658h1v2h-1zM516 660h1v3h-1zM517 663h1v2h-1zM518 665h1v3h-1zM519 668h1v3h-1zM520 671h1v2h-1zM521 673h1v2h-1zM522 675h1v2h-1zM527 679h1v1h-1zM528 678h1v1h-1zM529 677h1v1h-1zM530 676h1v1h-1zM535 676h1v1h-1zM536 677h1v2h-1zM537 679h1v2h-1zM538 681h1v2h-1zM539 683h1v2h-1zM540 685h1v3h-1zM541 688h1v2h-1zM542 690h1v3h-1zM543 693h1v2h-1zM544 695h1v1h-1zM545 696h1v1h-1zM546 697h1v1h-1zM551 697h1v1h-1zM552 694h1v3h-1zM553 691h1v3h-1zM554 688h1v3h-1zM555 685h1v3h-1zM556 682h1v3h-1zM557 679h1v3h-1zM558 676h1v3h-1zM559 672h1v4h-1zM560 668h1v4h-1zM561 664h1v4h-1zM562 660h1v4h-1zM563 656h1v4h-1zM564 654h1v2h-1zM565 652h1v2h-1zM566 650h1v2h-1zM567 649h1v1h-1zM568 648h1v1h-1zM569 646h1v2h-1zM570 645h1v1h-1zM582 647h1v1h-1zM583 648h1v1h-1zM584 649h1v1h-1zM585 650h1v2h-1zM586 652h1v1h-1zM587 653h1v1h-1zM590 655h1v1h-1zM591 656h1v1h-1zM592 657h1v2h-1zM593 659h1v1h-1zM594 660h1v2h-1zM595 662h1v2h-1zM596 664h1v3h-1zM597 667h1v3h-1zM598 670h1v3h-1zM599 673h1v3h-1zM600 676h1v4h-1zM601 680h1v4h-1zM602 684h1v4h-1zM603 688h1v3h-1zM604 691h1v3h-1zM605 694h1v3h-1zM606 697h1v3h-1zM607 700h1v1h-1zM615 704h1v1h-1zM616 705h1v1h-1zM617 706h1v1h-1zM618 707h1v1h-1zM619 708h1v1h-1zM620 709h1v1h-1zM621 710h1v2h-1zM622 712h1v1h-1zM623 713h1v1h-1zM626 711h1v1h-1zM627 709h1v2h-1zM628 706h1v3h-1zM629 704h1v2h-1zM630 701h1v3h-1zM631 697h1v4h-1zM632 692h1v5h-1zM633 687h1v5h-1zM634 682h1v5h-1zM635 677h1v5h-1zM636 673h1v4h-1zM637 668h1v5h-1zM638 664h1v4h-1zM639 660h1v4h-1zM640 657h1v3h-1zM641 653h1v4h-1zM642 650h1v3h-1zM643 648h1v2h-1zM646 646h1v1h-1zM654 648h1v1h-1zM660 651h1v1h-1zM661 652h1v1h-1zM662 653h1v1h-1zM678 655h1v1h-1zM679 654h1v1h-1zM680 653h1v1h-1zM681 651h1v2h-1zM682 650h1v1h-1zM687 651h1v2h-1zM688 653h1v3h-1zM689 656h1v2h-1zM690 658h1v3h-1zM691 661h1v4h-1zM692 665h1v5h-1zM693 670h1v4h-1zM694 674h1v5h-1zM695 679h1v5h-1zM696 684h1v4h-1zM697 688h1v4h-1zM698 692h1v4h-1zM699 696h1v4h-1zM700 700h1v2h-1zM701 702h1v2h-1zM702 704h1v2h-1zM703 706h1v2h-1zM704 708h1v1h-1zM705 709h1v1h-1zM706 710h1v1h-1zM707 711h1v1h-1zM710 709h1v1h-1zM711 707h1v2h-1zM712 704h1v3h-1zM713 701h1v3h-1zM714 698h1v3h-1zM715 694h1v4h-1zM716 690h1v4h-1zM717 686h1v4h-1zM718 682h1v4h-1zM719 679h1v3h-1zM720 676h1v3h-1zM721 673h1v3h-1zM722 670h1v3h-1zM723 668h1v1h-1zM725 670h1v2h-1zM726 672h1v1h-1zM727 673h1v2h-1zM728 675h1v4h-1zM729 679h1v3h-1zM730 682h1v4h-1zM731 686h1v3h-1zM732 689h1v2h-1zM733 691h1v2h-1zM734 693h1v2h-1zM735 695h1v1h-1zM736 694h1v1h-1zM737 692h1v2h-1zM738 691h1v1h-1zM739 689h1v2h-1zM740 686h1v3h-1zM741 683h1v3h-1zM742 680h1v3h-1zM743 677h1v3h-1zM744 675h1v2h-1zM745 673h1v2h-1zM746 671h1v2h-1zM747 670h1v1h-1zM759 666h1v1h-1zM760 665h1v1h-1zM761 663h1v2h-1zM762 662h1v1h-1zM763 661h1v1h-1zM764 659h1v2h-1zM765 658h1v1h-1zM766 656h1v2h-1zM767 655h1v1h-1zM768 656h1v1h-1zM769 657h1v1h-1zM770 658h1v1h-1zM771 659h1v1h-1zM772 660h1v2h-1zM773 662h1v2h-1zM774 664h1v2h-1zM775 666h1v2h-1zM776 668h1v2h-1zM777 670h1v2h-1zM778 672h1v2h-1zM779 674h1v1h-1zM791 674h1v1h-1zM792 675h1v2h-1zM793 677h1v2h-1zM794 679h1v2h-1zM802 678h1v1h-1zM807 679h1v1h-1zM808 680h1v1h-1zM809 681h1v1h-1zM810 682h1v1h-1zM815 681h1v1h-1zM816 679h1v2h-1zM817 677h1v2h-1zM818 675h1v2h-1zM819 673h1v2h-1zM820 671h1v2h-1zM821 669h1v2h-1zM822 667h1v2h-1zM823 665h1v2h-1zM824 664h1v1h-1zM825 662h1v2h-1zM826 661h1v1h-1zM832 660h1v1h-1zM833 661h1v2h-1zM834 663h1v1h-1zM835 664h1v1h-1zM836 665h1v2h-1zM837 667h1v1h-1zM838 668h1v2h-1zM839 670h1v2h-1zM840 672h1v3h-1zM841 675h1v3h-1zM842 678h1v3h-1zM843 681h1v3h-1zM844 684h1v3h-1zM845 687h1v2h-1zM846 689h1v3h-1zM847 692h1v3h-1zM848 695h1v2h-1zM849 697h1v2h-1zM850 699h1v2h-1zM858 699h1v1h-1zM859 698h1v1h-1zM860 696h1v2h-1zM861 694h1v2h-1zM862 692h1v2h-1zM863 690h1v2h-1zM864 688h1v2h-1zM865 685h1v3h-1zM866 683h1v2h-1zM867 680h1v3h-1zM868 677h1v3h-1zM869 675h1v2h-1zM870 672h1v3h-1zM871 670h1v2h-1zM872 668h1v2h-1zM873 666h1v2h-1zM874 664h1v2h-1zM875 663h1v1h-1zM878 665h1v1h-1zM879 666h1v2h-1zM880 668h1v3h-1zM881 671h1v2h-1zM882 673h1v3h-1zM883 676h1v4h-1zM884 680h1v4h-1zM885 684h1v5h-1zM886 689h1v4h-1zM887 693h1v4h-1zM888 697h1v4h-1zM889 701h1v3h-1zM890 704h1v4h-1zM891 708h1v2h-1zM892 710h1v2h-1zM893 712h1v2h-1zM894 714h1v2h-1zM900 714h1v1h-1zM901 713h1v1h-1zM902 712h1v1h-1zM903 710h1v2h-1zM904 708h1v2h-1zM905 706h1v2h-1zM906 704h1v2h-1zM907 702h1v2h-1zM908 700h1v2h-1zM909 698h1v2h-1zM910 696h1v2h-1zM911 694h1v2h-1zM912 693h1v1h-1zM913 692h1v1h-1zM914 691h1v1h-1zM919 688h1v1h-1zM920 687h1v1h-1zM921 685h1v2h-1zM922 684h1v1h-1zM923 682h1v2h-1zM924 680h1v2h-1zM925 678h1v2h-1zM926 676h1v2h-1zM931 676h1v1h-1zM932 677h1v3h-1zM933 680h1v2h-1zM934 682h1v3h-1zM935 685h1v3h-1zM936 688h1v4h-1zM937 692h1v3h-1zM938 695h1v4h-1zM939 699h1v3h-1zM940 702h1v2h-1zM941 704h1v2h-1zM942 706h1v2h-1zM955 711h1v1h-1zM958 709h1v1h-1zM959 707h1v2h-1zM960 705h1v2h-1zM961 703h1v2h-1zM962 701h1v2h-1zM963 698h1v3h-1zM964 694h1v4h-1zM965 690h1v4h-1zM966 686h1v4h-1zM967 683h1v3h-1zM968 680h1v3h-1zM969 678h1v2h-1zM970 675h1v3h-1zM971 673h1v2h-1zM972 671h1v2h-1zM973 669h1v2h-1zM974 667h1v2h-1zM980 664h1v1h-1zM981 662h1v2h-1zM982 661h1v1h-1zM983 660h1v1h-1zM986 658h1v1h-1zM987 657h1v1h-1zM990 655h1v1h-1zM991 654h1v1h-1zM992 655h1v1h-1zM993 656h1v2h-1zM994 658h1v1h-1zM995 659h1v1h-1zM996 660h1v1h-1zM997 661h1v2h-1zM998 663h1v1h-1zM999 664h1v1h-1zM1000 665h1v1h-1zM1001 666h1v2h-1zM1002 668h1v1h-1zM1008 670h1v1h-1zM1009 671h1v2h-1zM1010 673h1v1h-1zM1011 674h1v2h-1zM1012 676h1v2h-1zM1013 678h1v3h-1zM1014 681h1v2h-1zM1015 683h1v3h-1zM1016 686h1v3h-1zM1017 689h1v4h-1zM1018 693h1v3h-1zM1019 696h1v3h-1zM1020 699h1v2h-1zM1021 701h1v2h-1zM1022 703h1v2h-1zM1023 705h1v1h-1z" fill="#FF0000"/>
<text x="6.60" y="649.5" fill="#000" stroke="#000" stroke-width="0.2" textLength="50.60" lengthAdjust="spacingAndGlyphs">Stoch(5,3,3)</text>
<text x="59.60" y="649.5" fill="#000" stroke="#000" stroke-width="0.2" textLength="33.80" lengthAdjust="spacingAndGlyphs">14.0085</text>
<text x="95.60" y="649.5" fill="#000" stroke="#000" stroke-width="0.2" textLength="33.80" lengthAdjust="spacingAndGlyphs">19.6558</text>
<g class="c" stroke="#000">
<line x1="1551" y1="639.5" x2="1553" y2="639.5"/>
<line x1="1551" y1="721.5" x2="1552" y2="721.5"/>
</g>
<text x="1553.50" y="648" fill="#000" stroke="#000" stroke-width="0.2" textLength="15.52" lengthAdjust="spacingAndGlyphs">100</text>
<text x="1553.50" y="659" fill="#000" stroke="#000" stroke-width="0.2" textLength="10.51" lengthAdjust="spacingAndGlyphs">80</text>
<text x="1553.50" y="709" fill="#000" stroke="#000" stroke-width="0.2" textLength="10.51" lengthAdjust="spacingAndGlyphs">20</text>
<text x="1553.50" y="719" fill="#000" stroke="#000" stroke-width="0.2" textLength="5.51" lengthAdjust="spacingAndGlyphs">0</text>
<g class="c" stroke="#000">
<line x1="3.5" y1="722" x2="3.5" y2="726"/>
<line x1="67.5" y1="722" x2="67.5" y2="726"/>
<line x1="131.5" y1="722" x2="131.5" y2="726"/>
<line x1="195.5" y1="722" x2="195.5" y2="726"/>
<line x1="259.5" y1="722" x2="259.5" y2="726"/>
<line x1="323.5" y1="722" x2="323.5" y2="726"/>
<line x1="387.5" y1="722" x2="387.5" y2="726"/>
<line x1="451.5" y1="722" x2="451.5" y2="726"/>
<line x1="515.5" y1="722" x2="515.5" y2="726"/>
<line x1="579.5" y1="722" x2="579.5" y2="726"/>
<line x1="643.5" y1="722" x2="643.5" y2="726"/>
<line x1="707.5" y1="722" x2="707.5" y2="726"/>
<line x1="771.5" y1="722" x2="771.5" y2="726"/>
<line x1="835.5" y1="722" x2="835.5" y2="726"/>
<line x1="899.5" y1="722" x2="899.5" y2="726"/>
<line x1="963.5" y1="722" x2="963.5" y2="726"/>
</g>
<text x="2.50" y="735" fill="#000" stroke="#000" stroke-width="0.2" textLength="52.25" lengthAdjust="spacingAndGlyphs">10 Sep 2021</text>
<text x="66.50" y="735" fill="#000" stroke="#000" stroke-width="0.2" textLength="54.75" lengthAdjust="spacingAndGlyphs">15 Sep 08:00</text>
<text x="130.50" y="735" fill="#000" stroke="#000" stroke-width="0.2" textLength="54.75" lengthAdjust="spacingAndGlyphs">20 Sep 00:00</text>
<text x="194.50" y="735" fill="#000" stroke="#000" stroke-width="0.2" textLength="54.75" lengthAdjust="spacingAndGlyphs">22 Sep 16:00</text>
<text x="258.50" y="735" fill="#000" stroke="#000" stroke-width="0.2" textLength="54.75" lengthAdjust="spacingAndGlyphs">27 Sep 08:00</text>
<text x="322.50" y="735" fill="#000" stroke="#000" stroke-width="0.2" textLength="54.75" lengthAdjust="spacingAndGlyphs">30 Sep 00:00</text>
<text x="386.50" y="735" fill="#000" stroke="#000" stroke-width="0.2" textLength="47.73" lengthAdjust="spacingAndGlyphs">4 Oct 16:00</text>
<text x="450.50" y="735" fill="#000" stroke="#000" stroke-width="0.2" textLength="47.73" lengthAdjust="spacingAndGlyphs">7 Oct 08:00</text>
<text x="514.50" y="735" fill="#000" stroke="#000" stroke-width="0.2" textLength="52.73" lengthAdjust="spacingAndGlyphs">12 Oct 00:00</text>
<text x="578.50" y="735" fill="#000" stroke="#000" stroke-width="0.2" textLength="52.73" lengthAdjust="spacingAndGlyphs">14 Oct 16:00</text>
<text x="642.50" y="735" fill="#000" stroke="#000" stroke-width="0.2" textLength="52.73" lengthAdjust="spacingAndGlyphs">19 Oct 08:00</text>
<text x="706.50" y="735" fill="#000" stroke="#000" stroke-width="0.2" textLength="52.73" lengthAdjust="spacingAndGlyphs">22 Oct 00:00</text>
<text x="770.50" y="735" fill="#000" stroke="#000" stroke-width="0.2" textLength="52.73" lengthAdjust="spacingAndGlyphs">26 Oct 16:00</text>
<text x="834.50" y="735" fill="#000" stroke="#000" stroke-width="0.2" textLength="52.73" lengthAdjust="spacingAndGlyphs">29 Oct 08:00</text>
<text x="898.50" y="735" fill="#000" stroke="#000" stroke-width="0.2" textLength="49.73" lengthAdjust="spacingAndGlyphs">3 Nov 00:00</text>
<text x="962.50" y="735" fill="#000" stroke="#000" stroke-width="0.2" textLength="49.73" lengthAdjust="spacingAndGlyphs">5 Nov 16:00</text>
<g font-family='"Liberation Sans", Arial, sans-serif'>
<text x="50" y="536" style="font-family:&quot;Liberation Sans&quot;,sans-serif;font-size:47px" fill="#FFDBC6" stroke="#FFDBC6" stroke-width="1.8" stroke-linejoin="round" textLength="243" lengthAdjust="spacingAndGlyphs">economies</text>
<text x="296" y="536" style="font-family:&quot;Liberation Sans&quot;,sans-serif;font-size:49px" fill="#DEDEDE">.</text>
<text x="301.5" y="536" style="font-family:&quot;Liberation Sans&quot;,sans-serif;font-size:49px" fill="#DEDEDE" textLength="90" lengthAdjust="spacingAndGlyphs">com</text>
<text x="89" y="576" style="font-family:&quot;Liberation Sans&quot;,sans-serif;font-size:43px" fill="#E0E0E0" stroke="#E0E0E0" stroke-width="1.0" stroke-linejoin="round" textLength="256" lengthAdjust="spacingAndGlyphs">F<tspan fill="#EBDADA" stroke="#EBDADA">x</tspan>NewsToday</text>
</g>
</svg></body></html>
